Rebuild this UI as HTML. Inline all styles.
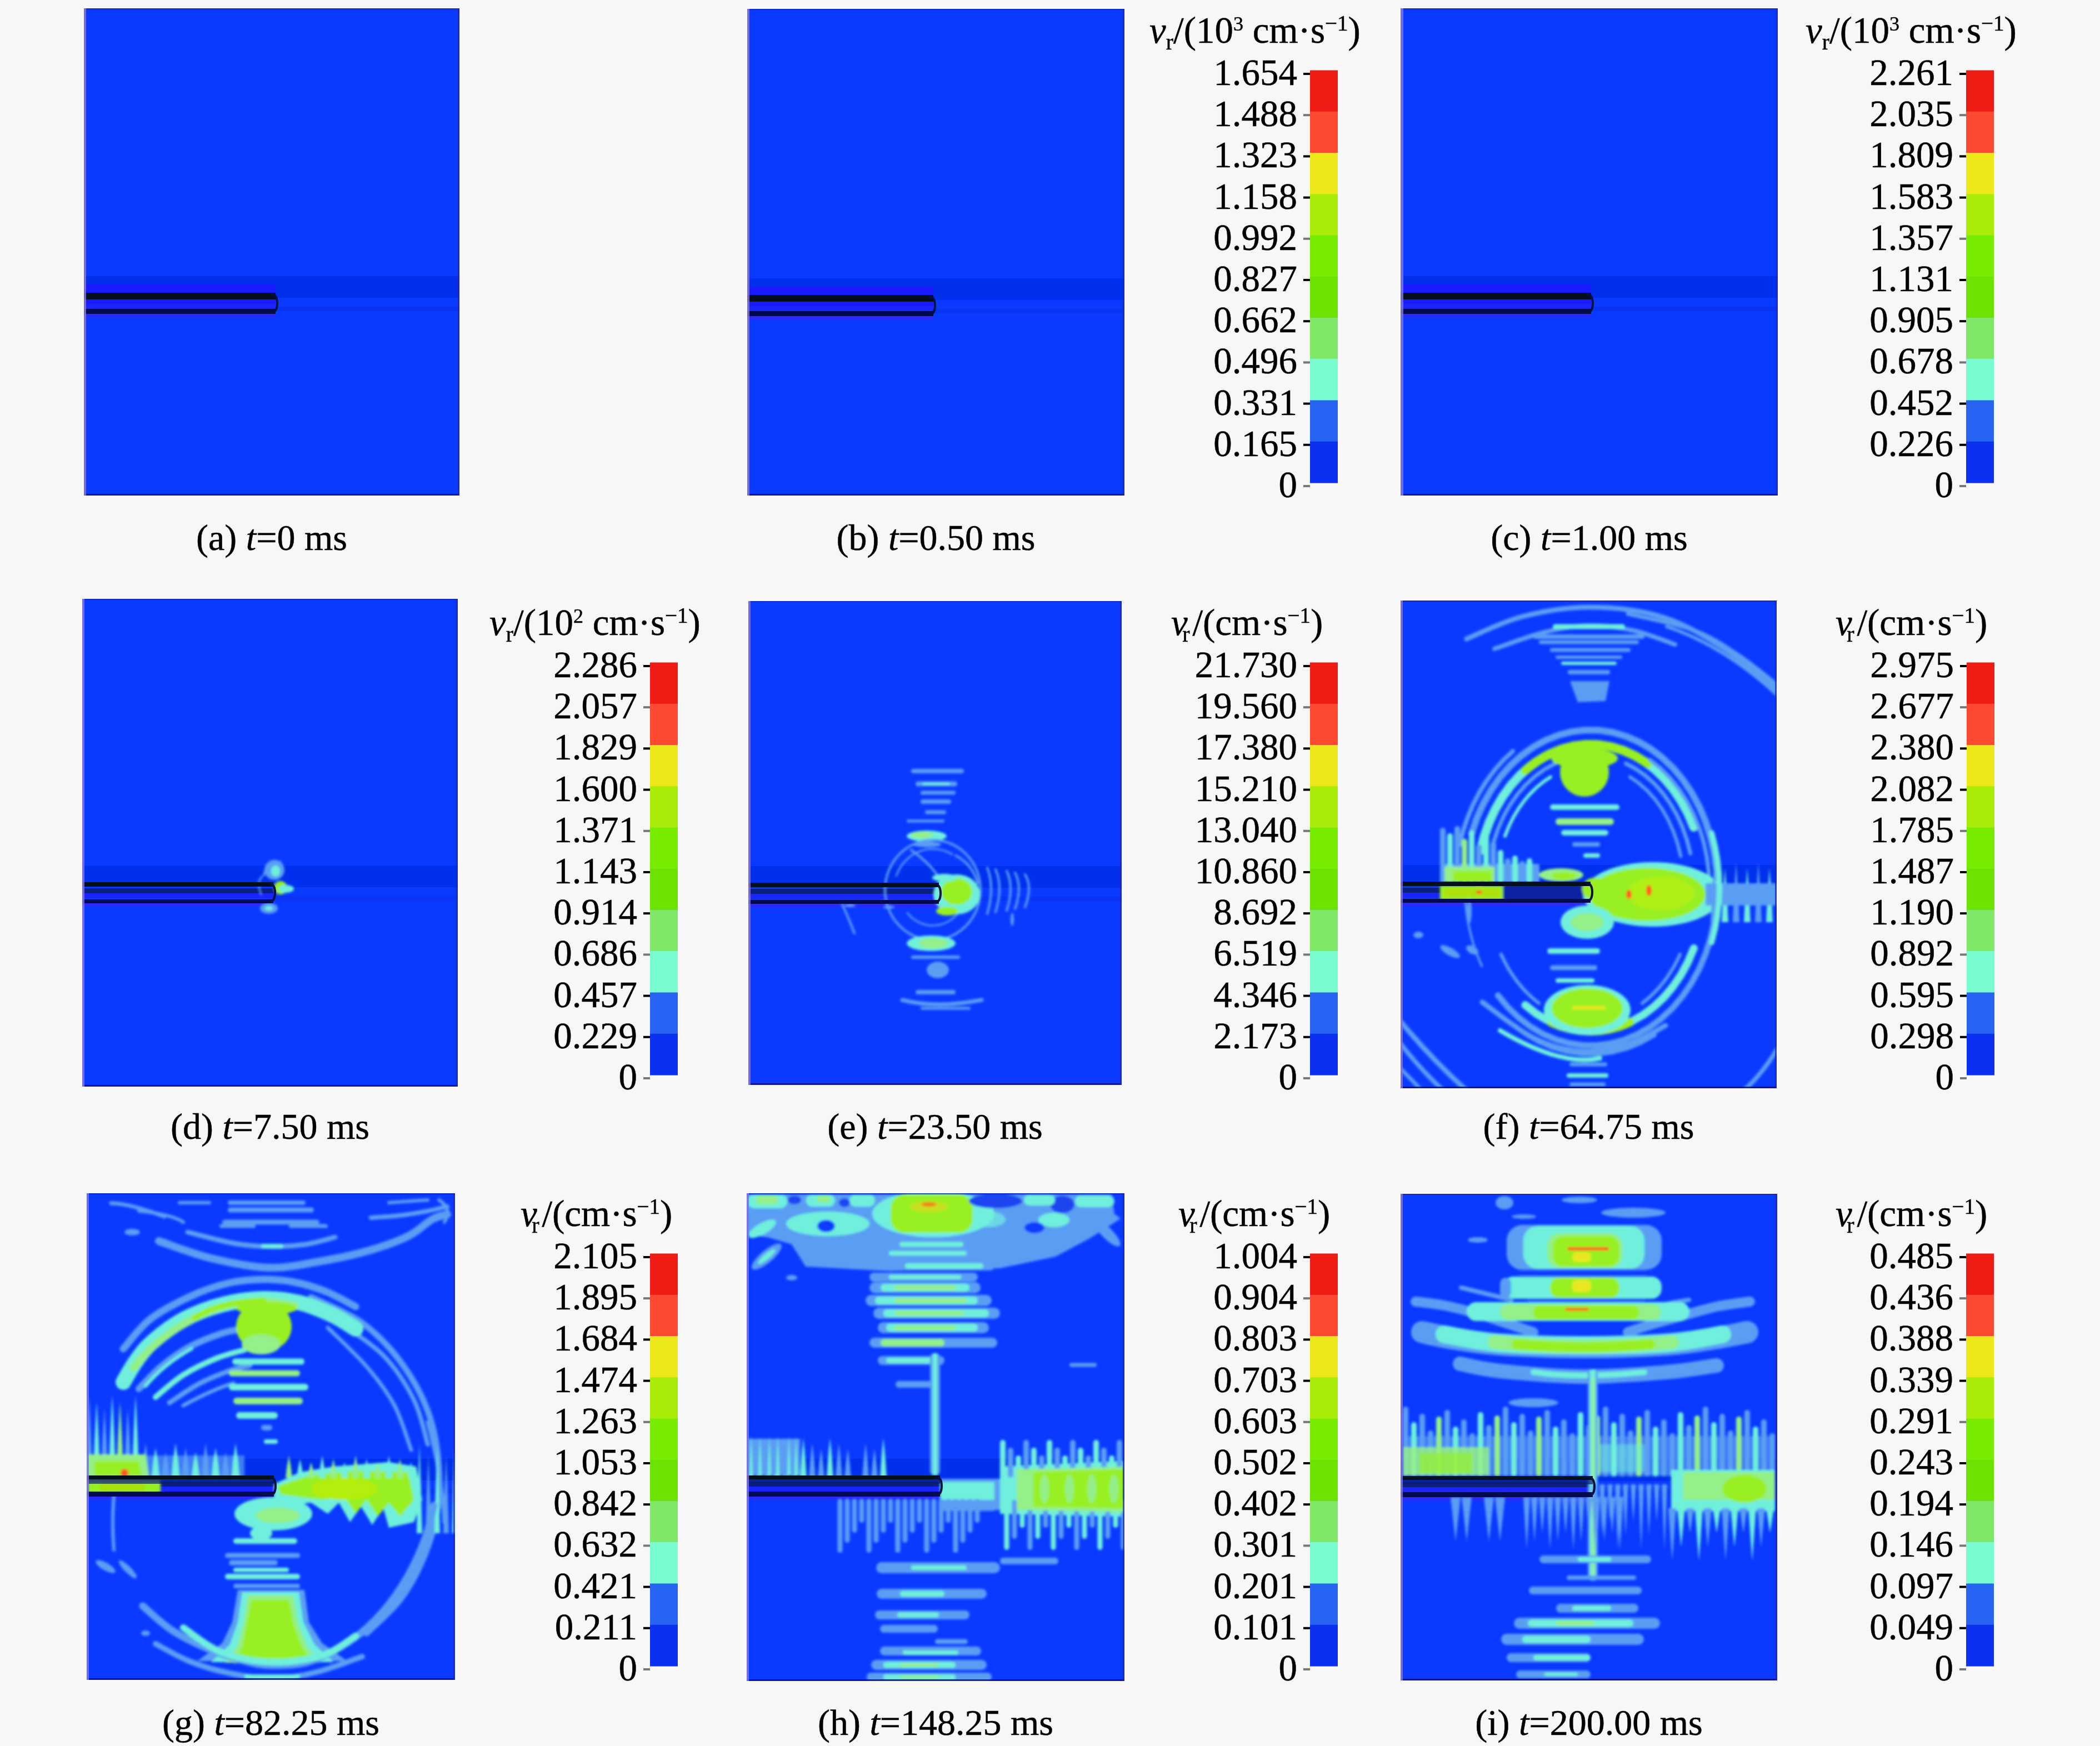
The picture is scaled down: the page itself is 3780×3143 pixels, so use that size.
<!DOCTYPE html>
<html><head><meta charset="utf-8"><title>Figure</title>
<style>
html,body{margin:0;padding:0;background:#f7f7f7;}
body{width:3780px;height:3143px;overflow:hidden;}
svg{display:block;}
text{font-family:"Liberation Serif", serif;fill:#000;stroke:#000;stroke-width:0.5px;}
</style></head><body>
<svg width="3780" height="3143" viewBox="0 0 3780 3143">
<defs>
<filter id="b2" x="-20%" y="-20%" width="140%" height="140%"><feGaussianBlur stdDeviation="2"/></filter>
<filter id="b4" x="-20%" y="-20%" width="140%" height="140%"><feGaussianBlur stdDeviation="4"/></filter>

<clipPath id="cpa"><rect x="151" y="15" width="676" height="877"/></clipPath>
<clipPath id="cpb"><rect x="1345" y="16" width="679" height="876"/></clipPath>
<clipPath id="cpc"><rect x="2521" y="15" width="679" height="877"/></clipPath>
<clipPath id="cpd"><rect x="148" y="1078" width="676" height="878"/></clipPath>
<clipPath id="cpe"><rect x="1347" y="1082" width="672" height="871"/></clipPath>
<clipPath id="cpf"><rect x="2521" y="1081" width="677" height="878"/></clipPath>
<clipPath id="cpg"><rect x="156" y="2148" width="663" height="876"/></clipPath>
<clipPath id="cph"><rect x="1344" y="2148" width="680" height="878"/></clipPath>
<clipPath id="cpi"><rect x="2521" y="2149" width="678" height="876"/></clipPath>
</defs>
<rect width="3780" height="3143" fill="#f7f7f7"/>
<g clip-path="url(#cpa)">
<rect x="151" y="15" width="676" height="877" fill="#0a3aff"/>
<rect x="151" y="497" width="676" height="39" fill="#0030ec"/><rect x="496" y="552" width="331" height="8" fill="#0a34f4"/><rect x="151" y="512" width="345" height="16" fill="#1a1aff"/><rect x="151" y="538" width="345" height="9" fill="#1a1aff"/><rect x="151" y="547" width="345" height="9" fill="#1a24ff"/><rect x="151" y="565" width="345" height="6" fill="#2a2aff"/>
<g filter="url(#b2)"></g>
<rect x="151" y="527" width="345" height="12" fill="#02101e"/><rect x="151" y="556" width="345" height="9" fill="#000a50"/><path d="M488,529 Q499,530 499,546 Q499,562 488,563" stroke="#001040" stroke-width="4" fill="none"/>
</g>
<rect x="151" y="15" width="676" height="2" fill="#1024b0" opacity="0.8"/>
<rect x="151" y="889" width="676" height="3" fill="#0c0c80" opacity="0.8"/>
<rect x="151" y="15" width="4" height="877" fill="#8474e4" opacity="0.85"/>
<rect x="824" y="15" width="3" height="877" fill="#2424a8" opacity="0.7"/>
<g clip-path="url(#cpb)">
<rect x="1345" y="16" width="679" height="876" fill="#0a3aff"/>
<rect x="1345" y="501" width="679" height="39" fill="#0030ec"/><rect x="1680" y="556" width="344" height="8" fill="#0a34f4"/><rect x="1345" y="516" width="335" height="16" fill="#1a1aff"/><rect x="1345" y="542" width="335" height="9" fill="#1a1aff"/><rect x="1345" y="551" width="335" height="9" fill="#1a24ff"/><rect x="1345" y="569" width="335" height="6" fill="#2a2aff"/>
<g filter="url(#b2)"></g>
<rect x="1345" y="531" width="335" height="12" fill="#02101e"/><rect x="1345" y="560" width="335" height="9" fill="#000a50"/><path d="M1672,533 Q1683,534 1683,550 Q1683,566 1672,567" stroke="#001040" stroke-width="4" fill="none"/>
</g>
<rect x="1345" y="16" width="679" height="2" fill="#1024b0" opacity="0.8"/>
<rect x="1345" y="889" width="679" height="3" fill="#0c0c80" opacity="0.8"/>
<rect x="1345" y="16" width="4" height="876" fill="#8474e4" opacity="0.85"/>
<rect x="2021" y="16" width="3" height="876" fill="#2424a8" opacity="0.7"/>
<g clip-path="url(#cpc)">
<rect x="2521" y="15" width="679" height="877" fill="#0a3aff"/>
<rect x="2521" y="497" width="679" height="39" fill="#0030ec"/><rect x="2864" y="552" width="336" height="8" fill="#0a34f4"/><rect x="2521" y="512" width="343" height="16" fill="#1a1aff"/><rect x="2521" y="538" width="343" height="9" fill="#1a1aff"/><rect x="2521" y="547" width="343" height="9" fill="#1a24ff"/><rect x="2521" y="565" width="343" height="6" fill="#2a2aff"/>
<g filter="url(#b2)"></g>
<rect x="2521" y="527" width="343" height="12" fill="#02101e"/><rect x="2521" y="556" width="343" height="9" fill="#000a50"/><path d="M2856,529 Q2867,530 2867,546 Q2867,562 2856,563" stroke="#001040" stroke-width="4" fill="none"/>
</g>
<rect x="2521" y="15" width="679" height="2" fill="#1024b0" opacity="0.8"/>
<rect x="2521" y="889" width="679" height="3" fill="#0c0c80" opacity="0.8"/>
<rect x="2521" y="15" width="5" height="877" fill="#8474e4" opacity="0.85"/>
<rect x="3197" y="15" width="3" height="877" fill="#2424a8" opacity="0.7"/>
<g clip-path="url(#cpd)">
<rect x="148" y="1078" width="676" height="878" fill="#0a3aff"/>
<rect x="148" y="1558" width="676" height="39" fill="#0030ec"/><rect x="492" y="1613" width="332" height="8" fill="#0a34f4"/><rect x="148" y="1599" width="344" height="9" fill="#0a2080"/><rect x="148" y="1608" width="344" height="9" fill="#1a24ff"/><rect x="148" y="1626" width="344" height="6" fill="#2a2aff"/>
<g filter="url(#b2)"><ellipse cx="494.0" cy="1566.0" rx="18.0" ry="18.0" fill="#5a9ef4"/><ellipse cx="496.0" cy="1568.0" rx="8.0" ry="10.0" fill="#70f0dc"/><path d="M475.0,1575.0 Q482.0,1548.5 505.0,1552.0" stroke="#5a9ef4" stroke-width="4" fill="none" stroke-linecap="round"/><ellipse cx="484.0" cy="1635.0" rx="16.0" ry="10.0" fill="#5a9ef4"/><ellipse cx="484.0" cy="1635.0" rx="7.0" ry="4.0" fill="#70f0dc"/><ellipse cx="505.0" cy="1598.0" rx="12.0" ry="12.0" fill="#98f020"/><ellipse cx="515.0" cy="1600.0" rx="14.0" ry="7.0" fill="#70f0dc"/><path d="M470.0,1610.0 Q461.0,1586.0 472.0,1578.0" stroke="#5a9ef4" stroke-width="3" fill="none" stroke-linecap="round"/></g>
<rect x="148" y="1588" width="344" height="8" fill="#02101e"/><rect x="148" y="1619" width="344" height="7" fill="#000a50"/><path d="M484,1590 Q495,1591 495,1607 Q495,1623 484,1624" stroke="#001040" stroke-width="4" fill="none"/>
</g>
<rect x="148" y="1078" width="676" height="2" fill="#1024b0" opacity="0.8"/>
<rect x="148" y="1953" width="676" height="3" fill="#0c0c80" opacity="0.8"/>
<rect x="148" y="1078" width="4" height="878" fill="#8474e4" opacity="0.85"/>
<rect x="821" y="1078" width="3" height="878" fill="#2424a8" opacity="0.7"/>
<g clip-path="url(#cpe)">
<rect x="1347" y="1082" width="672" height="871" fill="#0a3aff"/>
<rect x="1347" y="1559" width="672" height="39" fill="#0030ec"/><rect x="1690" y="1614" width="329" height="8" fill="#0a34f4"/><rect x="1347" y="1600" width="343" height="9" fill="#0a2080"/><rect x="1347" y="1609" width="343" height="9" fill="#1a24ff"/><rect x="1347" y="1627" width="343" height="6" fill="#2a2aff"/>
<g filter="url(#b2)"><rect x="1640.0" y="1384.0" width="95.0" height="8.0" rx="4.0" fill="#5a9ef4"/><rect x="1648.0" y="1406.5" width="75.0" height="9.0" rx="4.5" fill="#5a9ef4"/><rect x="1660.0" y="1409.0" width="50.0" height="4.0" rx="2.0" fill="#70f0dc"/><rect x="1657.0" y="1423.5" width="63.0" height="7.0" rx="3.5" fill="#5a9ef4"/><rect x="1657.0" y="1439.0" width="55.0" height="8.0" rx="4.0" fill="#5a9ef4"/><rect x="1665.0" y="1458.5" width="38.0" height="7.0" rx="3.5" fill="#5a9ef4"/><rect x="1632.0" y="1475.5" width="68.0" height="5.0" rx="2.5" fill="#5a9ef4"/><ellipse cx="1668.0" cy="1505.0" rx="36.0" ry="10.0" fill="#70f0dc"/><ellipse cx="1660.0" cy="1503.0" rx="20.0" ry="6.0" fill="#94f088"/><ellipse cx="1668.0" cy="1520.0" rx="26.0" ry="5.0" fill="#5a9ef4"/><path d="M1765.0,1602.0 L1764.5,1611.4 L1763.1,1620.7 L1760.8,1629.8 L1757.6,1638.6 L1753.5,1647.0 L1748.6,1654.9 L1742.9,1662.2 L1736.5,1668.9 L1729.5,1674.8 L1722.0,1679.9 L1714.0,1684.2 L1705.6,1687.6 L1696.9,1690.0 L1688.0,1691.5 L1679.0,1692.0 L1670.0,1691.5 L1661.1,1690.0 L1652.4,1687.6 L1644.0,1684.2 L1636.0,1679.9 L1628.5,1674.8 L1621.5,1668.9 L1615.1,1662.2 L1609.4,1654.9 L1604.5,1647.0 L1600.4,1638.6 L1597.2,1629.8 L1594.9,1620.7 L1593.5,1611.4 L1593.0,1602.0 L1593.5,1592.6 L1594.9,1583.3 L1597.2,1574.2 L1600.4,1565.4 L1604.5,1557.0 L1609.4,1549.1 L1615.1,1541.8 L1621.5,1535.1 L1628.5,1529.2 L1636.0,1524.1 L1644.0,1519.8 L1652.4,1516.4 L1661.1,1514.0 L1670.0,1512.5 L1679.0,1512.0 L1688.0,1512.5 L1696.9,1514.0 L1705.6,1516.4 L1714.0,1519.8 L1722.0,1524.1 L1729.5,1529.2 L1736.5,1535.1 L1742.9,1541.8 L1748.6,1549.1 L1753.5,1557.0 L1757.6,1565.4 L1760.8,1574.2 L1763.1,1583.3 L1764.5,1592.6 L1765.0,1602.0" stroke="#5a9ef4" stroke-width="4" fill="none" stroke-linecap="round" stroke-linejoin="round"/><path d="M1613.2,1576.7 L1616.2,1569.3 L1620.0,1562.2 L1624.4,1555.7 L1629.5,1549.7 L1635.2,1544.3 L1641.4,1539.6 L1648.0,1535.6 L1655.1,1532.5 L1662.4,1530.1 L1669.9,1528.6 L1677.5,1528.0 L1685.1,1528.3 L1692.7,1529.4 L1700.0,1531.4 L1707.2,1534.3 L1714.0,1537.9" stroke="#5a9ef4" stroke-width="3" fill="none" stroke-linecap="round" stroke-linejoin="round"/><path d="M1731.0,1634.0 L1727.5,1639.7 L1723.4,1645.0 L1718.9,1649.8 L1713.9,1654.1 L1708.5,1657.7 L1702.8,1660.8 L1696.8,1663.1 L1690.6,1664.8 L1684.2,1665.8 L1677.8,1666.0 L1671.5,1665.5 L1665.2,1664.3 L1659.0,1662.3 L1653.1,1659.7 L1647.5,1656.5 L1642.2,1652.6 L1637.4,1648.1 L1633.0,1643.1" stroke="#5a9ef4" stroke-width="3" fill="none" stroke-linecap="round" stroke-linejoin="round"/><path d="M1640.0,1530.0 Q1675.0,1555.0 1690.0,1580.0" stroke="#5a9ef4" stroke-width="4" fill="none" stroke-linecap="round"/><path d="M1720.0,1540.0 Q1750.0,1555.0 1760.0,1590.0" stroke="#5a9ef4" stroke-width="4" fill="none" stroke-linecap="round"/><ellipse cx="1722.0" cy="1610.0" rx="42.0" ry="36.0" fill="#70f0dc"/><ellipse cx="1722.0" cy="1605.0" rx="28.0" ry="24.0" fill="#98f020"/><ellipse cx="1705.0" cy="1640.0" rx="20.0" ry="8.0" fill="#98f020"/><ellipse cx="1700.0" cy="1580.0" rx="22.0" ry="7.0" fill="#70f0dc"/><path d="M1777.0,1562.0 Q1791.0,1596.5 1777.0,1645.0" stroke="#5a9ef4" stroke-width="4" fill="none" stroke-linecap="round"/><path d="M1792.0,1565.0 Q1806.0,1596.5 1792.0,1642.0" stroke="#5a9ef4" stroke-width="4" fill="none" stroke-linecap="round"/><path d="M1812.0,1568.0 Q1826.0,1596.5 1812.0,1639.0" stroke="#5a9ef4" stroke-width="4" fill="none" stroke-linecap="round"/><path d="M1827.0,1571.0 Q1841.0,1596.5 1827.0,1636.0" stroke="#5a9ef4" stroke-width="4" fill="none" stroke-linecap="round"/><path d="M1845.0,1574.0 Q1859.0,1596.5 1845.0,1633.0" stroke="#5a9ef4" stroke-width="4" fill="none" stroke-linecap="round"/><ellipse cx="1822.0" cy="1655.0" rx="3.0" ry="12.0" fill="#5a9ef4"/><ellipse cx="1676.0" cy="1698.0" rx="44.0" ry="14.0" fill="#70f0dc"/><ellipse cx="1680.0" cy="1698.0" rx="26.0" ry="9.0" fill="#94f088"/><rect x="1640.0" y="1720.0" width="88.0" height="6.0" rx="3.0" fill="#5a9ef4"/><ellipse cx="1688.0" cy="1746.0" rx="20.0" ry="15.0" fill="#5a9ef4"/><rect x="1648.0" y="1782.0" width="72.0" height="8.0" rx="4.0" fill="#5a9ef4"/><path d="M1624.0,1800.0 Q1684.5,1816.0 1767.0,1800.0" stroke="#5a9ef4" stroke-width="7" fill="none" stroke-linecap="round"/><rect x="1657.0" y="1812.5" width="90.0" height="5.0" rx="2.5" fill="#5a9ef4"/><path d="M1516.0,1628.0 Q1529.0,1656.0 1538.0,1680.0" stroke="#5a9ef4" stroke-width="4" fill="none" stroke-linecap="round"/><ellipse cx="1530.0" cy="1630.0" rx="10.0" ry="3.0" fill="#5a9ef4"/><ellipse cx="1600.0" cy="1633.0" rx="10.0" ry="3.0" fill="#5a9ef4"/></g>
<rect x="1347" y="1589" width="343" height="8" fill="#02101e"/><rect x="1347" y="1620" width="343" height="7" fill="#000a50"/><path d="M1682,1591 Q1693,1592 1693,1608 Q1693,1624 1682,1625" stroke="#001040" stroke-width="4" fill="none"/>
</g>
<rect x="1347" y="1082" width="672" height="2" fill="#1024b0" opacity="0.8"/>
<rect x="1347" y="1950" width="672" height="3" fill="#0c0c80" opacity="0.8"/>
<rect x="1347" y="1082" width="4" height="871" fill="#8474e4" opacity="0.85"/>
<rect x="2016" y="1082" width="3" height="871" fill="#2424a8" opacity="0.7"/>
<g clip-path="url(#cpf)">
<rect x="2521" y="1081" width="677" height="878" fill="#0a3aff"/>
<rect x="2521" y="1557" width="677" height="39" fill="#0030ec"/><rect x="2863" y="1612" width="335" height="8" fill="#0a34f4"/><rect x="2521" y="1598" width="342" height="9" fill="#0a2080"/><rect x="2521" y="1607" width="342" height="9" fill="#1a24ff"/><rect x="2521" y="1625" width="342" height="6" fill="#2a2aff"/>
<g filter="url(#b2)"><path d="M2640.0,1150.0 C2656.7,1143.3 2703.3,1119.5 2740.0,1110.0 C2776.7,1100.5 2818.3,1093.0 2860.0,1093.0 C2901.7,1093.0 2950.0,1098.0 2990.0,1110.0 C3030.0,1122.0 3065.3,1143.3 3100.0,1165.0 C3134.7,1186.7 3181.7,1227.5 3198.0,1240.0" stroke="#5a9ef4" stroke-width="9" fill="none" stroke-linecap="round"/><path d="M2690.0,1168.0 C2705.0,1163.0 2751.7,1145.0 2780.0,1138.0 C2808.3,1131.0 2833.3,1126.5 2860.0,1126.0 C2886.7,1125.5 2914.2,1129.3 2940.0,1135.0 C2965.8,1140.7 3002.5,1155.8 3015.0,1160.0" stroke="#5a9ef4" stroke-width="8" fill="none" stroke-linecap="round"/><path d="M2930.0,1105.0 C2950.0,1110.0 3016.7,1122.5 3050.0,1135.0 C3083.3,1147.5 3105.3,1163.8 3130.0,1180.0 C3154.7,1196.2 3186.7,1223.3 3198.0,1232.0" stroke="#5a9ef4" stroke-width="7" fill="none" stroke-linecap="round"/><path d="M3000.0,1128.0 Q3101.0,1161.0 3198.0,1250.0" stroke="#5a9ef4" stroke-width="6" fill="none" stroke-linecap="round"/><rect x="2795.0" y="1123.5" width="130.0" height="9.0" rx="4.5" fill="#70f0dc"/><rect x="2760.0" y="1142.0" width="200.0" height="8.0" rx="4.0" fill="#5a9ef4"/><rect x="2770.0" y="1152.5" width="180.0" height="7.0" rx="3.5" fill="#5a9ef4"/><rect x="2790.0" y="1166.5" width="145.0" height="7.0" rx="3.5" fill="#5a9ef4"/><rect x="2800.0" y="1180.0" width="120.0" height="6.0" rx="3.0" fill="#5a9ef4"/><rect x="2810.0" y="1191.0" width="100.0" height="6.0" rx="3.0" fill="#70f0dc"/><rect x="2822.0" y="1206.0" width="76.0" height="8.0" rx="4.0" fill="#5a9ef4"/><polygon points="2826.0,1226.0 2897.0,1226.0 2890.0,1262.0 2840.0,1264.0" fill="#5a9ef4"/><path d="M2648.8,1500.9 L2658.3,1472.8 L2670.3,1446.2 L2684.5,1421.4 L2700.7,1398.5 L2718.8,1378.0 L2738.6,1360.0 L2759.8,1344.8 L2782.2,1332.5 L2805.5,1323.2 L2829.5,1317.1 L2853.8,1314.2 L2878.3,1314.6 L2902.6,1318.3 L2926.4,1325.2 L2949.5,1335.3 L2971.7,1348.3 L2992.5,1364.3 L3011.9,1382.9 L3029.5,1404.0 L3045.3,1427.4 L3058.9,1452.7 L3070.3,1479.7 L3079.3,1508.1 L3085.8,1537.5 L3089.7,1567.6 L3091.0,1598.0" stroke="#5a9ef4" stroke-width="12" fill="none" stroke-linecap="round" stroke-linejoin="round"/><path d="M3091.0,1598.0 L3089.7,1628.8 L3085.6,1659.2 L3079.0,1689.0 L3069.8,1717.6 L3058.2,1744.8 L3044.2,1770.4 L3028.1,1793.8 L3010.1,1815.0 L2990.3,1833.6 L2969.1,1849.4 L2946.6,1862.2 L2923.1,1872.0 L2898.8,1878.5 L2874.2,1881.7 L2849.4,1881.5 L2824.8,1878.0 L2800.7,1871.2 L2777.3,1861.2 L2754.8,1848.0 L2733.7,1831.9 L2714.1,1813.1 L2696.3,1791.7" stroke="#5a9ef4" stroke-width="11" fill="none" stroke-linecap="round" stroke-linejoin="round"/><path d="M2667.3,1739.0 L2661.4,1725.5 L2656.1,1711.6 L2651.5,1697.3 L2647.5,1682.8 L2644.1,1668.0 L2641.3,1653.0 L2639.3,1637.9 L2637.9,1622.6" stroke="#5a9ef4" stroke-width="4" fill="none" stroke-linecap="round" stroke-linejoin="round"/><path d="M2627.3,1520.4 L2633.7,1495.4 L2641.9,1471.2 L2651.7,1448.0 L2663.1,1425.9 L2676.1,1405.2 L2690.5,1385.9 L2706.2,1368.2 L2723.0,1352.3" stroke="#5a9ef4" stroke-width="8" fill="none" stroke-linecap="round" stroke-linejoin="round"/><path d="M2665.0,1531.2 L2671.7,1505.2 L2680.6,1480.2 L2691.6,1456.5 L2704.5,1434.4 L2719.1,1414.2 L2735.4,1396.0 L2753.2,1380.1 L2772.2,1366.7 L2792.2,1355.9 L2813.0,1347.8 L2834.3,1342.5 L2856.0,1340.2 L2877.8,1340.7 L2899.4,1344.1 L2920.6,1350.4 L2941.1,1359.5 L2960.7,1371.2 L2979.3,1385.5 L2996.6,1402.3 L3012.3,1421.2 L3026.3,1442.1 L3038.6,1464.8 L3048.8,1489.0" stroke="#70f0dc" stroke-width="16" fill="none" stroke-linecap="round" stroke-linejoin="round"/><path d="M2745.4,1386.7 L2765.2,1371.3 L2786.2,1358.8 L2808.2,1349.4 L2830.9,1343.2 L2854.1,1340.2 L2877.3,1340.6 L2900.4,1344.3 L2922.9,1351.3 L2944.7,1361.4 L2965.5,1374.6" stroke="#98f020" stroke-width="16" fill="none" stroke-linecap="round" stroke-linejoin="round"/><path d="M2688.2,1516.6 L2696.2,1492.7 L2706.1,1470.1 L2717.9,1449.0 L2731.5,1429.7 L2746.6,1412.4 L2763.1,1397.3 L2780.7,1384.5 L2799.4,1374.4" stroke="#5a9ef4" stroke-width="7" fill="none" stroke-linecap="round" stroke-linejoin="round"/><path d="M2708.9,1505.0 L2715.8,1488.0 L2723.7,1471.8 L2732.8,1456.6 L2742.8,1442.4 L2753.7,1429.5 L2765.5,1417.8 L2778.0,1407.5 L2791.2,1398.6" stroke="#70f0dc" stroke-width="6" fill="none" stroke-linecap="round" stroke-linejoin="round"/><path d="M2926.6,1374.4 L2944.9,1384.3 L2962.2,1396.7 L2978.4,1411.3 L2993.2,1428.1 L3006.6,1446.8 L3018.4,1467.2 L3028.4,1489.1 L3036.5,1512.3 L3042.7,1536.4" stroke="#5a9ef4" stroke-width="7" fill="none" stroke-linecap="round" stroke-linejoin="round"/><path d="M2934.0,1398.6 L2950.2,1409.9 L2965.3,1423.5 L2979.2,1439.1 L2991.7,1456.6 L3002.7,1475.8 L3012.0,1496.4 L3019.6,1518.3 L3025.3,1541.1" stroke="#5a9ef4" stroke-width="6" fill="none" stroke-linecap="round" stroke-linejoin="round"/><path d="M2970.0,1367.6 L2988.8,1382.8 L3006.2,1400.3 L3022.0,1420.0 L3036.1,1441.6 L3048.3,1465.0 L3058.5,1489.8 L3066.5,1515.8 L3072.3,1542.7 L3075.8,1570.2 L3077.0,1598.0" stroke="#5a9ef4" stroke-width="7" fill="none" stroke-linecap="round" stroke-linejoin="round"/><path d="M3048.8,1707.0 L3038.3,1731.8 L3025.6,1755.1 L3011.1,1776.4 L2994.8,1795.6 L2976.9,1812.5 L2957.7,1826.8 L2937.3,1838.5 L2916.1,1847.2 L2894.2,1853.0 L2871.9,1855.8 L2849.6,1855.4 L2827.4,1852.1 L2805.6,1845.7 L2784.5,1836.4 L2764.4,1824.2 L2745.4,1809.3" stroke="#70f0dc" stroke-width="14" fill="none" stroke-linecap="round" stroke-linejoin="round"/><path d="M2933.1,1840.4 L2916.1,1847.2 L2898.6,1852.1 L2880.9,1855.0 L2863.0,1856.0 L2845.1,1855.0 L2827.4,1852.1 L2809.9,1847.2 L2792.9,1840.4" stroke="#98f020" stroke-width="16" fill="none" stroke-linecap="round" stroke-linejoin="round"/><path d="M3024.1,1718.0 L3017.7,1731.3 L3010.6,1744.1 L3002.8,1756.2 L2994.5,1767.7 L2985.6,1778.4 L2976.2,1788.4 L2966.3,1797.6 L2956.0,1805.8" stroke="#5a9ef4" stroke-width="6" fill="none" stroke-linecap="round" stroke-linejoin="round"/><path d="M2770.0,1805.8 L2759.7,1797.6 L2749.8,1788.4 L2740.4,1778.4 L2731.5,1767.7 L2723.2,1756.2 L2715.4,1744.1 L2708.3,1731.3 L2701.9,1718.0" stroke="#5a9ef4" stroke-width="6" fill="none" stroke-linecap="round" stroke-linejoin="round"/><path d="M2978.0,1862.9 L2953.6,1876.7 L2928.1,1887.2 L2901.7,1894.2 L2875.0,1897.6 L2848.0,1897.4 L2821.3,1893.6 L2795.1,1886.2 L2769.6,1875.4 L2745.3,1861.1 L2722.5,1843.7" stroke="#5a9ef4" stroke-width="8" fill="none" stroke-linecap="round" stroke-linejoin="round"/><ellipse cx="2852.0" cy="1390.0" rx="44.0" ry="44.0" fill="#98f020"/><ellipse cx="2852.0" cy="1365.0" rx="60.0" ry="18.0" fill="#98f020"/><rect x="2790.0" y="1448.0" width="125.0" height="10.0" rx="5.0" fill="#70f0dc"/><rect x="2800.0" y="1473.0" width="105.0" height="12.0" rx="6.0" fill="#94f088"/><rect x="2810.0" y="1494.0" width="85.0" height="10.0" rx="5.0" fill="#70f0dc"/><rect x="2830.0" y="1516.0" width="50.0" height="8.0" rx="4.0" fill="#5a9ef4"/><rect x="2850.0" y="1536.0" width="30.0" height="8.0" rx="4.0" fill="#70f0dc"/><polygon points="2592.0,1555.0 2770.0,1555.0 2770.0,1588.0 2592.0,1588.0" fill="#5a9ef4"/><rect x="2592.0" y="1490.0" width="10.0" height="100.0" rx="5.0" fill="#5a9ef4"/><rect x="2605.0" y="1500.0" width="10.0" height="90.0" rx="5.0" fill="#70f0dc"/><rect x="2618.0" y="1487.0" width="10.0" height="103.0" rx="5.0" fill="#5a9ef4"/><rect x="2631.0" y="1510.0" width="10.0" height="80.0" rx="5.0" fill="#94f088"/><rect x="2644.0" y="1495.0" width="10.0" height="95.0" rx="5.0" fill="#70f0dc"/><rect x="2657.0" y="1520.0" width="10.0" height="70.0" rx="5.0" fill="#5a9ef4"/><rect x="2670.0" y="1500.0" width="10.0" height="90.0" rx="5.0" fill="#70f0dc"/><rect x="2683.0" y="1515.0" width="10.0" height="75.0" rx="5.0" fill="#5a9ef4"/><rect x="2696.0" y="1530.0" width="10.0" height="60.0" rx="5.0" fill="#70f0dc"/><rect x="2709.0" y="1545.0" width="10.0" height="45.0" rx="5.0" fill="#5a9ef4"/><rect x="2722.0" y="1540.0" width="10.0" height="50.0" rx="5.0" fill="#70f0dc"/><rect x="2735.0" y="1550.0" width="10.0" height="40.0" rx="5.0" fill="#5a9ef4"/><rect x="2748.0" y="1545.0" width="10.0" height="45.0" rx="5.0" fill="#70f0dc"/><rect x="2761.0" y="1555.0" width="10.0" height="35.0" rx="5.0" fill="#5a9ef4"/><polygon points="2600.0,1560.0 2690.0,1560.0 2690.0,1588.0 2600.0,1588.0" fill="#94f088"/><polygon points="2615.0,1568.0 2685.0,1568.0 2685.0,1588.0 2615.0,1588.0" fill="#98f020"/><ellipse cx="2810.0" cy="1575.0" rx="40.0" ry="12.0" fill="#94f088"/><ellipse cx="2815.0" cy="1577.0" rx="22.0" ry="7.0" fill="#98f020"/><polygon points="2592.0,1594.0 2705.0,1594.0 2705.0,1620.0 2592.0,1620.0" fill="#98f020"/><polygon points="2600.0,1600.0 2700.0,1600.0 2700.0,1614.0 2600.0,1614.0" fill="#b0e010"/><polygon points="2705.0,1594.0 2860.0,1594.0 2860.0,1620.0 2705.0,1620.0" fill="#0a20a0"/><ellipse cx="2662.0" cy="1592.0" rx="5.0" ry="3.0" fill="#f02010"/><ellipse cx="2662.0" cy="1606.0" rx="6.0" ry="3.0" fill="#ff5a20"/><ellipse cx="2975.0" cy="1610.0" rx="125.0" ry="58.0" fill="#70f0dc"/><ellipse cx="2965.0" cy="1610.0" rx="105.0" ry="48.0" fill="#98f020"/><ellipse cx="2990.0" cy="1608.0" rx="60.0" ry="30.0" fill="#b0f018"/><ellipse cx="2932.0" cy="1610.0" rx="5.0" ry="8.0" fill="#ff5a20"/><ellipse cx="2968.0" cy="1603.0" rx="5.0" ry="10.0" fill="#ff5a20"/><path d="M3079.0,1660.0 Q3081.0,1606.0 3085.0,1552.0 Q3089.0,1606.0 3091.0,1660.0 Z" fill="#5a9ef4"/><path d="M3099.0,1660.0 Q3101.0,1611.0 3105.0,1562.0 Q3109.0,1611.0 3111.0,1660.0 Z" fill="#70f0dc"/><path d="M3119.0,1660.0 Q3121.0,1606.0 3125.0,1552.0 Q3129.0,1606.0 3131.0,1660.0 Z" fill="#5a9ef4"/><path d="M3139.0,1660.0 Q3141.0,1611.0 3145.0,1562.0 Q3149.0,1611.0 3151.0,1660.0 Z" fill="#70f0dc"/><path d="M3159.0,1660.0 Q3161.0,1606.0 3165.0,1552.0 Q3169.0,1606.0 3171.0,1660.0 Z" fill="#5a9ef4"/><path d="M3179.0,1660.0 Q3181.0,1611.0 3185.0,1562.0 Q3189.0,1611.0 3191.0,1660.0 Z" fill="#70f0dc"/><polygon points="3070.0,1590.0 3198.0,1590.0 3198.0,1630.0 3070.0,1630.0" fill="#5a9ef4"/><ellipse cx="2870.0" cy="1600.0" rx="22.0" ry="20.0" fill="#98f020"/><ellipse cx="2857.0" cy="1660.0" rx="48.0" ry="30.0" fill="#70f0dc"/><ellipse cx="2857.0" cy="1660.0" rx="30.0" ry="16.0" fill="#94f088"/><rect x="2785.0" y="1707.0" width="95.0" height="10.0" rx="5.0" fill="#70f0dc"/><rect x="2790.0" y="1737.5" width="85.0" height="9.0" rx="4.5" fill="#5a9ef4"/><rect x="2800.0" y="1761.0" width="70.0" height="8.0" rx="4.0" fill="#70f0dc"/><ellipse cx="2857.0" cy="1818.0" rx="78.0" ry="45.0" fill="#70f0dc"/><ellipse cx="2857.0" cy="1815.0" rx="64.0" ry="36.0" fill="#98f020"/><rect x="2830.0" y="1811.0" width="60.0" height="6.0" rx="3.0" fill="#e8e820"/><path d="M2668.0,1804.0 C2683.3,1814.7 2730.7,1853.3 2760.0,1868.0 C2789.3,1882.7 2815.7,1890.0 2844.0,1892.0 C2872.3,1894.0 2904.3,1887.7 2930.0,1880.0 C2955.7,1872.3 2986.7,1851.7 2998.0,1846.0" stroke="#5a9ef4" stroke-width="9" fill="none" stroke-linecap="round"/><path d="M2700.0,1855.0 Q2810.0,1920.0 2880.0,1905.0" stroke="#70f0dc" stroke-width="8" fill="none" stroke-linecap="round"/><rect x="2825.0" y="1912.5" width="68.0" height="7.0" rx="3.5" fill="#5a9ef4"/><rect x="2820.0" y="1932.0" width="75.0" height="8.0" rx="4.0" fill="#70f0dc"/><rect x="2825.0" y="1948.5" width="65.0" height="7.0" rx="3.5" fill="#5a9ef4"/><path d="M2522.0,1840.0 Q2578.0,1907.5 2642.0,1965.0" stroke="#5a9ef4" stroke-width="9" fill="none" stroke-linecap="round"/><path d="M2522.0,1880.0 Q2559.0,1927.5 2600.0,1965.0" stroke="#5a9ef4" stroke-width="8" fill="none" stroke-linecap="round"/><path d="M2522.0,1925.0 Q2549.0,1951.0 2560.0,1965.0" stroke="#5a9ef4" stroke-width="7" fill="none" stroke-linecap="round"/><path d="M3198.0,1890.0 Q3171.0,1934.0 3140.0,1962.0" stroke="#5a9ef4" stroke-width="8" fill="none" stroke-linecap="round"/><ellipse cx="2553.0" cy="1683.0" rx="9.0" ry="6.0" fill="#5a9ef4"/><ellipse cx="2610.0" cy="1713.0" rx="20.0" ry="7.0" fill="#5a9ef4" transform="rotate(30 2610 1713)"/><ellipse cx="2650.0" cy="1710.0" rx="12.0" ry="7.0" fill="#5a9ef4" transform="rotate(30 2650 1710)"/><ellipse cx="2645.0" cy="1640.0" rx="4.0" ry="22.0" fill="#5a9ef4"/><path d="M3081.0,1499.5 L3087.1,1523.5 L3091.5,1548.0 L3094.1,1572.9 L3095.0,1598.0 L3094.1,1623.1 L3091.5,1648.0 L3087.1,1672.5 L3081.0,1696.5" stroke="#70f0dc" stroke-width="10" fill="none" stroke-linecap="round" stroke-linejoin="round"/></g>
<rect x="2521" y="1587" width="342" height="8" fill="#02101e"/><rect x="2521" y="1618" width="342" height="7" fill="#000a50"/><path d="M2855,1589 Q2866,1590 2866,1606 Q2866,1622 2855,1623" stroke="#001040" stroke-width="4" fill="none"/>
</g>
<rect x="2521" y="1081" width="677" height="2" fill="#1024b0" opacity="0.8"/>
<rect x="2521" y="1956" width="677" height="3" fill="#0c0c80" opacity="0.8"/>
<rect x="2521" y="1081" width="4" height="878" fill="#8474e4" opacity="0.85"/>
<rect x="3195" y="1081" width="3" height="878" fill="#2424a8" opacity="0.7"/>
<g clip-path="url(#cpg)">
<rect x="156" y="2148" width="663" height="876" fill="#0a3aff"/>
<rect x="156" y="2626" width="663" height="39" fill="#0030ec"/><rect x="493" y="2681" width="326" height="8" fill="#0a34f4"/><rect x="156" y="2667" width="337" height="9" fill="#0a2080"/><rect x="156" y="2676" width="337" height="9" fill="#1a24ff"/><rect x="156" y="2694" width="337" height="6" fill="#2a2aff"/>
<g filter="url(#b2)"><path d="M286.0,2234.0 C301.7,2239.2 346.5,2257.0 380.0,2265.0 C413.5,2273.0 452.0,2281.5 487.0,2282.0 C522.0,2282.5 559.8,2273.3 590.0,2268.0 C620.2,2262.7 643.8,2257.2 668.0,2250.0 C692.2,2242.8 716.7,2234.2 735.0,2225.0 C753.3,2215.8 766.3,2201.5 778.0,2195.0 C789.7,2188.5 800.5,2187.5 805.0,2186.0" stroke="#5a9ef4" stroke-width="14" fill="none" stroke-linecap="round"/><path d="M338.0,2218.0 C351.7,2221.3 395.2,2233.7 420.0,2238.0 C444.8,2242.3 465.3,2243.7 487.0,2244.0 C508.7,2244.3 530.7,2242.8 550.0,2240.0 C569.3,2237.2 594.2,2229.2 603.0,2227.0" stroke="#5a9ef4" stroke-width="9" fill="none" stroke-linecap="round"/><rect x="470.0" y="2239.0" width="40.0" height="8.0" rx="4.0" fill="#70f0dc"/><rect x="400.0" y="2195.5" width="175.0" height="9.0" rx="4.5" fill="#5a9ef4"/><rect x="410.0" y="2173.5" width="155.0" height="9.0" rx="4.5" fill="#5a9ef4"/><rect x="410.0" y="2161.0" width="140.0" height="8.0" rx="4.0" fill="#5a9ef4"/><rect x="395.0" y="2203.5" width="65.0" height="7.0" rx="3.5" fill="#5a9ef4"/><rect x="520.0" y="2203.5" width="70.0" height="7.0" rx="3.5" fill="#5a9ef4"/><path d="M200.0,2166.0 Q232.0,2166.0 296.0,2190.0" stroke="#5a9ef4" stroke-width="7" fill="none" stroke-linecap="round"/><path d="M250.0,2180.0 Q310.0,2186.0 330.0,2200.0" stroke="#5a9ef4" stroke-width="6" fill="none" stroke-linecap="round"/><ellipse cx="238.0" cy="2218.0" rx="14.0" ry="6.0" fill="#5a9ef4"/><rect x="320.0" y="2162.0" width="60.0" height="6.0" rx="3.0" fill="#5a9ef4"/><path d="M668.0,2192.0 C676.7,2191.3 703.0,2190.0 720.0,2188.0 C737.0,2186.0 755.8,2182.7 770.0,2180.0 C784.2,2177.3 799.2,2173.3 805.0,2172.0" stroke="#5a9ef4" stroke-width="8" fill="none" stroke-linecap="round"/><path d="M700.0,2165.0 Q745.0,2161.5 770.0,2160.0" stroke="#5a9ef4" stroke-width="6" fill="none" stroke-linecap="round"/><path d="M790.0,2160.0 Q815.0,2176.0 800.0,2200.0" stroke="#5a9ef4" stroke-width="6" fill="none" stroke-linecap="round"/><path d="M222.0,2428.0 C230.0,2419.2 249.7,2390.8 270.0,2375.0 C290.3,2359.2 320.7,2343.8 344.0,2333.0 C367.3,2322.2 388.3,2315.0 410.0,2310.0 C431.7,2305.0 454.0,2303.3 474.0,2303.0 C494.0,2302.7 511.2,2304.3 530.0,2308.0 C548.8,2311.7 568.7,2317.7 587.0,2325.0 C605.3,2332.3 631.2,2347.5 640.0,2352.0" stroke="#5a9ef4" stroke-width="13" fill="none" stroke-linecap="round"/><path d="M560.0,2335.0 C575.0,2342.5 623.3,2360.8 650.0,2380.0 C676.7,2399.2 700.0,2423.3 720.0,2450.0 C740.0,2476.7 758.3,2508.3 770.0,2540.0 C781.7,2571.7 787.5,2608.3 790.0,2640.0 C792.5,2671.7 790.0,2701.7 785.0,2730.0 C780.0,2758.3 770.8,2785.0 760.0,2810.0 C749.2,2835.0 736.7,2858.3 720.0,2880.0 C703.3,2901.7 670.0,2930.0 660.0,2940.0" stroke="#5a9ef4" stroke-width="11" fill="none" stroke-linecap="round"/><path d="M610.0,2380.0 C623.3,2390.0 667.5,2416.7 690.0,2440.0 C712.5,2463.3 731.7,2493.3 745.0,2520.0 C758.3,2546.7 765.8,2586.7 770.0,2600.0" stroke="#5a9ef4" stroke-width="8" fill="none" stroke-linecap="round"/><path d="M590.0,2390.0 C601.7,2401.7 640.0,2436.7 660.0,2460.0 C680.0,2483.3 696.7,2505.0 710.0,2530.0 C723.3,2555.0 735.0,2596.7 740.0,2610.0" stroke="#5a9ef4" stroke-width="7" fill="none" stroke-linecap="round"/><path d="M770.0,2560.0 Q795.0,2650.0 800.0,2740.0" stroke="#5a9ef4" stroke-width="7" fill="none" stroke-linecap="round"/><path d="M222.0,2488.0 C225.8,2481.7 236.2,2462.2 245.0,2450.0 C253.8,2437.8 260.3,2427.7 275.0,2415.0 C289.7,2402.3 311.8,2385.2 333.0,2374.0 C354.2,2362.8 378.5,2354.0 402.0,2348.0 C425.5,2342.0 451.2,2338.5 474.0,2338.0 C496.8,2337.5 518.0,2340.0 539.0,2345.0 C560.0,2350.0 583.2,2360.2 600.0,2368.0 C616.8,2375.8 633.3,2388.0 640.0,2392.0" stroke="#70f0dc" stroke-width="28" fill="none" stroke-linecap="round"/><path d="M240.0,2462.0 C246.7,2455.0 264.5,2433.3 280.0,2420.0 C295.5,2406.7 312.7,2393.3 333.0,2382.0 C353.3,2370.7 378.5,2358.5 402.0,2352.0 C425.5,2345.5 452.7,2343.3 474.0,2343.0 C495.3,2342.7 520.7,2348.8 530.0,2350.0" stroke="#94f088" stroke-width="14" fill="none" stroke-linecap="round"/><path d="M350.0,2372.0 Q392.0,2344.0 474.0,2340.0" stroke="#98f020" stroke-width="10" fill="none" stroke-linecap="round"/><path d="M250.0,2500.0 C256.7,2493.3 275.0,2472.5 290.0,2460.0 C305.0,2447.5 321.7,2435.0 340.0,2425.0 C358.3,2415.0 383.3,2405.5 400.0,2400.0 C416.7,2394.5 433.3,2393.3 440.0,2392.0" stroke="#5a9ef4" stroke-width="12" fill="none" stroke-linecap="round"/><path d="M262.0,2495.0 Q296.5,2454.5 345.0,2428.0" stroke="#70f0dc" stroke-width="6" fill="none" stroke-linecap="round"/><path d="M280.0,2515.0 C288.3,2508.3 311.7,2486.7 330.0,2475.0 C348.3,2463.3 371.7,2452.5 390.0,2445.0 C408.3,2437.5 431.7,2432.5 440.0,2430.0" stroke="#70f0dc" stroke-width="10" fill="none" stroke-linecap="round"/><path d="M305.0,2525.0 C314.2,2519.2 340.8,2500.0 360.0,2490.0 C379.2,2480.0 405.0,2470.3 420.0,2465.0 C435.0,2459.7 445.0,2459.2 450.0,2458.0" stroke="#5a9ef4" stroke-width="9" fill="none" stroke-linecap="round"/><path d="M330.0,2530.0 Q385.0,2500.0 420.0,2490.0" stroke="#5a9ef4" stroke-width="7" fill="none" stroke-linecap="round"/><ellipse cx="475.0" cy="2388.0" rx="50.0" ry="45.0" fill="#98f020"/><ellipse cx="480.0" cy="2355.0" rx="55.0" ry="12.0" fill="#98f020"/><ellipse cx="470.0" cy="2420.0" rx="35.0" ry="18.0" fill="#94f088"/><rect x="418.0" y="2445.5" width="130.0" height="11.0" rx="5.5" fill="#70f0dc"/><rect x="412.0" y="2466.5" width="128.0" height="11.0" rx="5.5" fill="#94f088"/><rect x="412.0" y="2491.0" width="143.0" height="12.0" rx="6.0" fill="#70f0dc"/><rect x="420.0" y="2516.0" width="125.0" height="12.0" rx="6.0" fill="#94f088"/><rect x="425.0" y="2542.0" width="75.0" height="12.0" rx="6.0" fill="#70f0dc"/><rect x="470.0" y="2565.0" width="20.0" height="10.0" rx="5.0" fill="#5a9ef4"/><rect x="475.0" y="2591.0" width="25.0" height="8.0" rx="4.0" fill="#70f0dc"/><polygon points="156.0,2620.0 440.0,2620.0 440.0,2660.0 156.0,2660.0" fill="#3c7cf4"/><path d="M153.5,2662.0 Q155.7,2587.0 160.0,2512.0 Q164.3,2587.0 166.5,2662.0 Z" fill="#5a9ef4"/><path d="M167.5,2662.0 Q169.7,2593.0 174.0,2524.0 Q178.3,2593.0 180.5,2662.0 Z" fill="#70f0dc"/><path d="M181.5,2662.0 Q183.7,2599.0 188.0,2536.0 Q192.3,2599.0 194.5,2662.0 Z" fill="#5a9ef4"/><path d="M195.5,2662.0 Q197.7,2587.0 202.0,2512.0 Q206.3,2587.0 208.5,2662.0 Z" fill="#70f0dc"/><path d="M209.5,2662.0 Q211.7,2593.0 216.0,2524.0 Q220.3,2593.0 222.5,2662.0 Z" fill="#94f088"/><path d="M223.5,2662.0 Q225.7,2599.0 230.0,2536.0 Q234.3,2599.0 236.5,2662.0 Z" fill="#5a9ef4"/><path d="M237.5,2662.0 Q239.7,2587.0 244.0,2512.0 Q248.3,2587.0 250.5,2662.0 Z" fill="#70f0dc"/><path d="M254.5,2662.0 Q257.0,2630.0 262.0,2598.0 Q267.0,2630.0 269.5,2662.0 Z" fill="#5a9ef4"/><path d="M272.5,2662.0 Q275.0,2634.0 280.0,2606.0 Q285.0,2634.0 287.5,2662.0 Z" fill="#70f0dc"/><path d="M290.5,2662.0 Q293.0,2638.0 298.0,2614.0 Q303.0,2638.0 305.5,2662.0 Z" fill="#5a9ef4"/><path d="M308.5,2662.0 Q311.0,2630.0 316.0,2598.0 Q321.0,2630.0 323.5,2662.0 Z" fill="#70f0dc"/><path d="M326.5,2662.0 Q329.0,2634.0 334.0,2606.0 Q339.0,2634.0 341.5,2662.0 Z" fill="#5a9ef4"/><path d="M344.5,2662.0 Q347.0,2638.0 352.0,2614.0 Q357.0,2638.0 359.5,2662.0 Z" fill="#70f0dc"/><path d="M362.5,2662.0 Q365.0,2630.0 370.0,2598.0 Q375.0,2630.0 377.5,2662.0 Z" fill="#5a9ef4"/><path d="M380.5,2662.0 Q383.0,2634.0 388.0,2606.0 Q393.0,2634.0 395.5,2662.0 Z" fill="#70f0dc"/><path d="M398.5,2662.0 Q401.0,2638.0 406.0,2614.0 Q411.0,2638.0 413.5,2662.0 Z" fill="#5a9ef4"/><path d="M416.5,2662.0 Q419.0,2630.0 424.0,2598.0 Q429.0,2630.0 431.5,2662.0 Z" fill="#70f0dc"/><polygon points="156.0,2618.0 262.0,2618.0 268.0,2658.0 156.0,2658.0" fill="#94f088"/><polygon points="170.0,2630.0 250.0,2630.0 255.0,2658.0 170.0,2658.0" fill="#98f020"/><ellipse cx="224.0" cy="2652.0" rx="7.0" ry="8.0" fill="#ff5a20"/><polygon points="158.0,2664.0 289.0,2664.0 289.0,2688.0 158.0,2688.0" fill="#98f020"/><polygon points="180.0,2668.0 260.0,2668.0 260.0,2684.0 180.0,2684.0" fill="#a8e010"/><polygon points="493.0,2672.0 540.0,2650.0 600.0,2640.0 700.0,2632.0 749.0,2640.0 760.0,2700.0 745.0,2740.0 700.0,2750.0 690.0,2715.0 670.0,2745.0 650.0,2712.0 630.0,2740.0 610.0,2705.0 590.0,2725.0 560.0,2705.0 520.0,2710.0 493.0,2700.0" fill="#70f0dc"/><polygon points="500.0,2675.0 560.0,2655.0 640.0,2648.0 735.0,2650.0 745.0,2700.0 720.0,2730.0 700.0,2705.0 680.0,2730.0 660.0,2700.0 640.0,2725.0 620.0,2695.0 580.0,2700.0 540.0,2695.0 505.0,2690.0" fill="#98f020"/><ellipse cx="620.0" cy="2680.0" rx="60.0" ry="20.0" fill="#b4ee10"/><path d="M514.0,2660.0 Q516.0,2640.0 520.0,2620.0 Q524.0,2640.0 526.0,2660.0 Z" fill="#94f088"/><path d="M534.0,2660.0 Q536.0,2643.0 540.0,2626.0 Q544.0,2643.0 546.0,2660.0 Z" fill="#70f0dc"/><path d="M554.0,2660.0 Q556.0,2646.0 560.0,2632.0 Q564.0,2646.0 566.0,2660.0 Z" fill="#94f088"/><path d="M574.0,2660.0 Q576.0,2640.0 580.0,2620.0 Q584.0,2640.0 586.0,2660.0 Z" fill="#70f0dc"/><path d="M594.0,2660.0 Q596.0,2643.0 600.0,2626.0 Q604.0,2643.0 606.0,2660.0 Z" fill="#94f088"/><path d="M614.0,2660.0 Q616.0,2646.0 620.0,2632.0 Q624.0,2646.0 626.0,2660.0 Z" fill="#70f0dc"/><path d="M634.0,2660.0 Q636.0,2640.0 640.0,2620.0 Q644.0,2640.0 646.0,2660.0 Z" fill="#94f088"/><path d="M654.0,2660.0 Q656.0,2643.0 660.0,2626.0 Q664.0,2643.0 666.0,2660.0 Z" fill="#70f0dc"/><path d="M674.0,2660.0 Q676.0,2646.0 680.0,2632.0 Q684.0,2646.0 686.0,2660.0 Z" fill="#94f088"/><path d="M694.0,2660.0 Q696.0,2640.0 700.0,2620.0 Q704.0,2640.0 706.0,2660.0 Z" fill="#70f0dc"/><path d="M714.0,2660.0 Q716.0,2643.0 720.0,2626.0 Q724.0,2643.0 726.0,2660.0 Z" fill="#94f088"/><path d="M734.0,2660.0 Q736.0,2646.0 740.0,2632.0 Q744.0,2646.0 746.0,2660.0 Z" fill="#70f0dc"/><path d="M750.0,2760.0 Q751.7,2680.0 755.0,2600.0 Q758.3,2680.0 760.0,2760.0 Z" fill="#70f0dc"/><path d="M766.0,2760.0 Q767.7,2690.0 771.0,2620.0 Q774.3,2690.0 776.0,2760.0 Z" fill="#5a9ef4"/><path d="M782.0,2760.0 Q783.7,2680.0 787.0,2600.0 Q790.3,2680.0 792.0,2760.0 Z" fill="#70f0dc"/><path d="M798.0,2760.0 Q799.7,2690.0 803.0,2620.0 Q806.3,2690.0 808.0,2760.0 Z" fill="#5a9ef4"/><path d="M814.0,2760.0 Q815.7,2680.0 819.0,2600.0 Q822.3,2680.0 824.0,2760.0 Z" fill="#70f0dc"/><ellipse cx="492.0" cy="2725.0" rx="70.0" ry="30.0" fill="#70f0dc"/><ellipse cx="500.0" cy="2728.0" rx="40.0" ry="14.0" fill="#94f088"/><ellipse cx="470.0" cy="2760.0" rx="20.0" ry="12.0" fill="#70f0dc"/><rect x="420.0" y="2769.0" width="115.0" height="10.0" rx="5.0" fill="#70f0dc"/><rect x="412.0" y="2808.0" width="88.0" height="10.0" rx="5.0" fill="#5a9ef4"/><rect x="405.0" y="2833.0" width="135.0" height="10.0" rx="5.0" fill="#70f0dc"/><rect x="420.0" y="2851.0" width="120.0" height="8.0" rx="4.0" fill="#5a9ef4"/><polygon points="428.0,2862.0 548.0,2862.0 556.0,2920.0 580.0,2958.0 625.0,2990.0 355.0,2990.0 400.0,2958.0 418.0,2920.0" fill="#5a9ef4"/><polygon points="436.0,2866.0 538.0,2866.0 546.0,2920.0 566.0,2960.0 600.0,2992.0 380.0,2992.0 414.0,2960.0 428.0,2920.0" fill="#70f0dc"/><polygon points="446.0,2872.0 528.0,2872.0 536.0,2920.0 552.0,2962.0 575.0,2993.0 405.0,2993.0 428.0,2962.0 438.0,2920.0" fill="#94f088"/><polygon points="452.0,2880.0 520.0,2880.0 528.0,2922.0 543.0,2964.0 562.0,2994.0 420.0,2994.0 436.0,2964.0 444.0,2922.0" fill="#98f020"/><rect x="405.0" y="2795.5" width="135.0" height="9.0" rx="4.5" fill="#5a9ef4"/><rect x="420.0" y="2822.0" width="100.0" height="8.0" rx="4.0" fill="#70f0dc"/><path d="M257.0,2891.0 C265.8,2898.3 290.0,2922.0 310.0,2935.0 C330.0,2948.0 355.3,2959.8 377.0,2969.0 C398.7,2978.2 421.2,2985.2 440.0,2990.0 C458.8,2994.8 470.0,2998.0 490.0,2998.0 C510.0,2998.0 535.7,2998.0 560.0,2990.0 C584.3,2982.0 614.3,2965.0 636.0,2950.0 C657.7,2935.0 673.8,2918.5 690.0,2900.0 C706.2,2881.5 720.5,2860.7 733.0,2839.0 C745.5,2817.3 757.0,2791.5 765.0,2770.0 C773.0,2748.5 778.3,2720.0 781.0,2710.0" stroke="#5a9ef4" stroke-width="13" fill="none" stroke-linecap="round"/><path d="M330.0,2930.0 C341.7,2937.5 373.3,2964.7 400.0,2975.0 C426.7,2985.3 460.0,2991.2 490.0,2992.0 C520.0,2992.8 555.0,2987.8 580.0,2980.0 C605.0,2972.2 630.0,2950.8 640.0,2945.0" stroke="#70f0dc" stroke-width="12" fill="none" stroke-linecap="round"/><path d="M280.0,2959.0 C290.0,2964.2 318.5,2981.3 340.0,2990.0 C361.5,2998.7 384.0,3005.7 409.0,3011.0 C434.0,3016.3 463.2,3022.2 490.0,3022.0 C516.8,3021.8 543.0,3016.7 570.0,3010.0 C597.0,3003.3 638.3,2986.7 652.0,2982.0" stroke="#5a9ef4" stroke-width="10" fill="none" stroke-linecap="round"/><rect x="440.0" y="3014.0" width="100.0" height="8.0" rx="4.0" fill="#70f0dc"/><path d="M205.0,2693.0 Q201.0,2738.5 205.0,2790.0" stroke="#5a9ef4" stroke-width="6" fill="none" stroke-linecap="round"/><ellipse cx="190.0" cy="2820.0" rx="20.0" ry="7.0" fill="#5a9ef4" transform="rotate(30 190 2820)"/><ellipse cx="230.0" cy="2825.0" rx="22.0" ry="6.0" fill="#5a9ef4" transform="rotate(45 230 2825)"/><ellipse cx="262.0" cy="2940.0" rx="8.0" ry="5.0" fill="#5a9ef4"/></g>
<rect x="156" y="2656" width="337" height="7" fill="#02101e"/><rect x="156" y="2663" width="337" height="8" fill="#0a1c70" opacity="0.7"/><rect x="156" y="2685" width="337" height="9" fill="#000a50"/><path d="M485,2658 Q496,2659 496,2675 Q496,2691 485,2692" stroke="#001040" stroke-width="4" fill="none"/>
</g>
<rect x="156" y="2148" width="663" height="2" fill="#1024b0" opacity="0.8"/>
<rect x="156" y="3021" width="663" height="3" fill="#0c0c80" opacity="0.8"/>
<rect x="156" y="2148" width="4" height="876" fill="#8474e4" opacity="0.85"/>
<rect x="816" y="2148" width="3" height="876" fill="#2424a8" opacity="0.7"/>
<g clip-path="url(#cph)">
<rect x="1344" y="2148" width="680" height="878" fill="#0a3aff"/>
<rect x="1344" y="2626" width="680" height="39" fill="#0030ec"/><rect x="1692" y="2681" width="332" height="8" fill="#0a34f4"/><rect x="1344" y="2667" width="348" height="9" fill="#0a2080"/><rect x="1344" y="2676" width="348" height="9" fill="#1a24ff"/><rect x="1344" y="2694" width="348" height="6" fill="#2a2aff"/>
<g filter="url(#b2)"><polygon points="1345.0,2150.0 2023.0,2150.0 2023.0,2190.0 1960.0,2230.0 1900.0,2262.0 1800.0,2283.0 1600.0,2288.0 1450.0,2280.0 1425.0,2240.0 1385.0,2228.0 1345.0,2222.0" fill="#5a9ef4"/><rect x="1345.0" y="2150.0" width="72.0" height="25.0" rx="12.5" fill="#70f0dc"/><rect x="1360.0" y="2152.0" width="40.0" height="16.0" rx="8.0" fill="#94f088"/><rect x="1451.0" y="2150.0" width="52.0" height="22.0" rx="11.0" fill="#70f0dc"/><rect x="1470.0" y="2152.0" width="25.0" height="13.0" rx="6.5" fill="#94f088"/><rect x="1529.0" y="2150.0" width="46.0" height="22.0" rx="11.0" fill="#70f0dc"/><ellipse cx="1430.0" cy="2160.0" rx="12.0" ry="8.0" fill="#1a44f0"/><ellipse cx="1520.0" cy="2165.0" rx="10.0" ry="8.0" fill="#1a44f0"/><ellipse cx="1490.0" cy="2203.0" rx="75.0" ry="22.0" fill="#70f0dc"/><ellipse cx="1487.0" cy="2207.0" rx="16.0" ry="11.0" fill="#0a3aff"/><ellipse cx="1372.0" cy="2212.0" rx="28.0" ry="10.0" fill="#70f0dc" transform="rotate(-30 1372 2212)"/><ellipse cx="1380.0" cy="2262.0" rx="34.0" ry="11.0" fill="#5a9ef4" transform="rotate(-40 1380 2262)"/><ellipse cx="1380.0" cy="2262.0" rx="20.0" ry="5.0" fill="#70f0dc" transform="rotate(-40 1380 2262)"/><ellipse cx="1425.0" cy="2300.0" rx="10.0" ry="5.0" fill="#5a9ef4"/><ellipse cx="1680.0" cy="2185.0" rx="110.0" ry="42.0" fill="#70f0dc"/><rect x="1603.0" y="2150.0" width="148.0" height="69.0" rx="25.0" fill="#98f020"/><ellipse cx="1672.0" cy="2172.0" rx="34.0" ry="10.0" fill="#c8e020"/><ellipse cx="1672.0" cy="2168.0" rx="14.0" ry="4.0" fill="#ff5a20" opacity="0.7"/><ellipse cx="1792.0" cy="2162.0" rx="48.0" ry="13.0" fill="#1a44f0"/><ellipse cx="1912.0" cy="2168.0" rx="22.0" ry="16.0" fill="#1a44f0"/><polygon points="2000.0,2150.0 2023.0,2150.0 2023.0,2200.0 2005.0,2185.0" fill="#0a3aff"/><rect x="1843.0" y="2150.0" width="56.0" height="20.0" rx="10.0" fill="#70f0dc"/><rect x="1935.0" y="2152.0" width="70.0" height="21.0" rx="10.5" fill="#70f0dc"/><ellipse cx="1897.0" cy="2196.0" rx="28.0" ry="13.0" fill="#70f0dc"/><ellipse cx="1862.0" cy="2210.0" rx="18.0" ry="10.0" fill="#0a3aff"/><ellipse cx="1780.0" cy="2195.0" rx="30.0" ry="14.0" fill="#70f0dc" opacity="0.7"/><ellipse cx="1993.0" cy="2220.0" rx="32.0" ry="10.0" fill="#5a9ef4" transform="rotate(45 1993 2220)"/><ellipse cx="1790.0" cy="2240.0" rx="60.0" ry="16.0" fill="#5a9ef4"/><rect x="1600.0" y="2233.0" width="150.0" height="14.0" rx="7.0" fill="#5a9ef4"/><rect x="1619.0" y="2235.5" width="115.0" height="9.0" rx="4.5" fill="#70f0dc"/><rect x="1580.0" y="2249.0" width="190.0" height="14.0" rx="7.0" fill="#5a9ef4"/><rect x="1600.0" y="2252.0" width="140.0" height="8.0" rx="4.0" fill="#70f0dc"/><rect x="1600.0" y="2271.0" width="190.0" height="16.0" rx="8.0" fill="#5a9ef4"/><rect x="1629.0" y="2274.0" width="141.0" height="10.0" rx="5.0" fill="#70f0dc"/><rect x="1565.0" y="2291.0" width="195.0" height="16.0" rx="8.0" fill="#5a9ef4"/><rect x="1600.0" y="2295.0" width="130.0" height="8.0" rx="4.0" fill="#70f0dc"/><rect x="1565.0" y="2308.0" width="200.0" height="20.0" rx="10.0" fill="#5a9ef4"/><rect x="1585.0" y="2311.0" width="160.0" height="14.0" rx="7.0" fill="#70f0dc"/><rect x="1610.0" y="2314.0" width="110.0" height="8.0" rx="4.0" fill="#94f088"/><rect x="1558.0" y="2331.0" width="227.0" height="20.0" rx="10.0" fill="#5a9ef4"/><rect x="1575.0" y="2334.0" width="185.0" height="14.0" rx="7.0" fill="#70f0dc"/><rect x="1610.0" y="2337.0" width="130.0" height="8.0" rx="4.0" fill="#94f088"/><rect x="1572.0" y="2354.0" width="228.0" height="20.0" rx="10.0" fill="#5a9ef4"/><rect x="1590.0" y="2357.0" width="190.0" height="14.0" rx="7.0" fill="#70f0dc"/><rect x="1610.0" y="2360.0" width="125.0" height="8.0" rx="4.0" fill="#94f088"/><rect x="1580.0" y="2380.0" width="200.0" height="20.0" rx="10.0" fill="#5a9ef4"/><rect x="1595.0" y="2383.0" width="165.0" height="14.0" rx="7.0" fill="#70f0dc"/><rect x="1610.0" y="2386.0" width="110.0" height="8.0" rx="4.0" fill="#94f088"/><rect x="1565.0" y="2408.0" width="230.0" height="18.0" rx="9.0" fill="#5a9ef4"/><rect x="1585.0" y="2410.5" width="115.0" height="13.0" rx="6.5" fill="#94f088"/><rect x="1580.0" y="2441.0" width="120.0" height="16.0" rx="8.0" fill="#5a9ef4"/><rect x="1595.0" y="2444.0" width="95.0" height="10.0" rx="5.0" fill="#70f0dc"/><rect x="1612.0" y="2486.0" width="73.0" height="12.0" rx="6.0" fill="#5a9ef4"/><rect x="1925.0" y="2453.5" width="49.0" height="7.0" rx="3.5" fill="#5a9ef4"/><rect x="1674" y="2436" width="18" height="220" rx="8" fill="#5a9ef4"/><rect x="1679" y="2436" width="8" height="220" fill="#70f0dc"/><path d="M1344.0,2660.0 Q1346.0,2624.0 1350.0,2588.0 Q1354.0,2624.0 1356.0,2660.0 Z" fill="#70f0dc"/><path d="M1360.0,2660.0 Q1362.0,2629.0 1366.0,2598.0 Q1370.0,2629.0 1372.0,2660.0 Z" fill="#5a9ef4"/><path d="M1376.0,2660.0 Q1378.0,2634.0 1382.0,2608.0 Q1386.0,2634.0 1388.0,2660.0 Z" fill="#5a9ef4"/><path d="M1392.0,2660.0 Q1394.0,2624.0 1398.0,2588.0 Q1402.0,2624.0 1404.0,2660.0 Z" fill="#70f0dc"/><path d="M1408.0,2660.0 Q1410.0,2629.0 1414.0,2598.0 Q1418.0,2629.0 1420.0,2660.0 Z" fill="#5a9ef4"/><path d="M1424.0,2660.0 Q1426.0,2634.0 1430.0,2608.0 Q1434.0,2634.0 1436.0,2660.0 Z" fill="#5a9ef4"/><path d="M1440.0,2660.0 Q1442.0,2624.0 1446.0,2588.0 Q1450.0,2624.0 1452.0,2660.0 Z" fill="#70f0dc"/><path d="M1456.0,2660.0 Q1458.0,2629.0 1462.0,2598.0 Q1466.0,2629.0 1468.0,2660.0 Z" fill="#5a9ef4"/><path d="M1472.0,2660.0 Q1474.0,2634.0 1478.0,2608.0 Q1482.0,2634.0 1484.0,2660.0 Z" fill="#5a9ef4"/><path d="M1488.0,2660.0 Q1490.0,2624.0 1494.0,2588.0 Q1498.0,2624.0 1500.0,2660.0 Z" fill="#70f0dc"/><path d="M1504.0,2660.0 Q1506.0,2629.0 1510.0,2598.0 Q1514.0,2629.0 1516.0,2660.0 Z" fill="#5a9ef4"/><path d="M1520.0,2660.0 Q1522.0,2634.0 1526.0,2608.0 Q1530.0,2634.0 1532.0,2660.0 Z" fill="#5a9ef4"/><path d="M1552.0,2660.0 Q1554.0,2629.0 1558.0,2598.0 Q1562.0,2629.0 1564.0,2660.0 Z" fill="#5a9ef4"/><path d="M1568.0,2660.0 Q1570.0,2634.0 1574.0,2608.0 Q1578.0,2634.0 1580.0,2660.0 Z" fill="#5a9ef4"/><path d="M1584.0,2660.0 Q1586.0,2624.0 1590.0,2588.0 Q1594.0,2624.0 1596.0,2660.0 Z" fill="#70f0dc"/><polygon points="1345.0,2590.0 1440.0,2590.0 1440.0,2656.0 1345.0,2656.0" fill="#5a9ef4"/><path d="M1349.0,2656.0 Q1350.0,2620.5 1352.0,2585.0 Q1354.0,2620.5 1355.0,2656.0 Z" fill="#70f0dc"/><path d="M1365.0,2656.0 Q1366.0,2620.5 1368.0,2585.0 Q1370.0,2620.5 1371.0,2656.0 Z" fill="#70f0dc"/><path d="M1382.0,2656.0 Q1383.0,2620.5 1385.0,2585.0 Q1387.0,2620.5 1388.0,2656.0 Z" fill="#70f0dc"/><path d="M1397.0,2656.0 Q1398.0,2620.5 1400.0,2585.0 Q1402.0,2620.5 1403.0,2656.0 Z" fill="#70f0dc"/><path d="M1417.0,2656.0 Q1418.0,2620.5 1420.0,2585.0 Q1422.0,2620.5 1423.0,2656.0 Z" fill="#70f0dc"/><path d="M1430.0,2656.0 Q1431.0,2620.5 1433.0,2585.0 Q1435.0,2620.5 1436.0,2656.0 Z" fill="#70f0dc"/><polygon points="1692.0,2662.0 1800.0,2662.0 1800.0,2718.0 1692.0,2718.0" fill="#5a9ef4"/><polygon points="1692.0,2668.0 1790.0,2668.0 1790.0,2705.0 1692.0,2705.0" fill="#70f0dc"/><polygon points="1800.0,2640.0 2023.0,2630.0 2023.0,2730.0 1800.0,2725.0" fill="#70f0dc"/><rect x="1800.0" y="2592.0" width="10.0" height="68.0" rx="5.0" fill="#70f0dc"/><rect x="1807.5" y="2700.0" width="9.0" height="90.0" rx="4.5" fill="#70f0dc"/><rect x="1814.0" y="2606.0" width="10.0" height="54.0" rx="5.0" fill="#5a9ef4"/><rect x="1821.5" y="2700.0" width="9.0" height="70.0" rx="4.5" fill="#5a9ef4"/><rect x="1828.0" y="2620.0" width="10.0" height="40.0" rx="5.0" fill="#70f0dc"/><rect x="1835.5" y="2700.0" width="9.0" height="50.0" rx="4.5" fill="#70f0dc"/><rect x="1842.0" y="2592.0" width="10.0" height="68.0" rx="5.0" fill="#5a9ef4"/><rect x="1849.5" y="2700.0" width="9.0" height="90.0" rx="4.5" fill="#5a9ef4"/><rect x="1856.0" y="2606.0" width="10.0" height="54.0" rx="5.0" fill="#70f0dc"/><rect x="1863.5" y="2700.0" width="9.0" height="70.0" rx="4.5" fill="#70f0dc"/><rect x="1870.0" y="2620.0" width="10.0" height="40.0" rx="5.0" fill="#5a9ef4"/><rect x="1877.5" y="2700.0" width="9.0" height="50.0" rx="4.5" fill="#5a9ef4"/><rect x="1884.0" y="2592.0" width="10.0" height="68.0" rx="5.0" fill="#70f0dc"/><rect x="1891.5" y="2700.0" width="9.0" height="90.0" rx="4.5" fill="#70f0dc"/><rect x="1898.0" y="2606.0" width="10.0" height="54.0" rx="5.0" fill="#5a9ef4"/><rect x="1905.5" y="2700.0" width="9.0" height="70.0" rx="4.5" fill="#5a9ef4"/><rect x="1912.0" y="2620.0" width="10.0" height="40.0" rx="5.0" fill="#70f0dc"/><rect x="1919.5" y="2700.0" width="9.0" height="50.0" rx="4.5" fill="#70f0dc"/><rect x="1926.0" y="2592.0" width="10.0" height="68.0" rx="5.0" fill="#5a9ef4"/><rect x="1933.5" y="2700.0" width="9.0" height="90.0" rx="4.5" fill="#5a9ef4"/><rect x="1940.0" y="2606.0" width="10.0" height="54.0" rx="5.0" fill="#70f0dc"/><rect x="1947.5" y="2700.0" width="9.0" height="70.0" rx="4.5" fill="#70f0dc"/><rect x="1954.0" y="2620.0" width="10.0" height="40.0" rx="5.0" fill="#5a9ef4"/><rect x="1961.5" y="2700.0" width="9.0" height="50.0" rx="4.5" fill="#5a9ef4"/><rect x="1968.0" y="2592.0" width="10.0" height="68.0" rx="5.0" fill="#70f0dc"/><rect x="1975.5" y="2700.0" width="9.0" height="90.0" rx="4.5" fill="#70f0dc"/><rect x="1982.0" y="2606.0" width="10.0" height="54.0" rx="5.0" fill="#5a9ef4"/><rect x="1989.5" y="2700.0" width="9.0" height="70.0" rx="4.5" fill="#5a9ef4"/><rect x="1996.0" y="2620.0" width="10.0" height="40.0" rx="5.0" fill="#70f0dc"/><rect x="2003.5" y="2700.0" width="9.0" height="50.0" rx="4.5" fill="#70f0dc"/><rect x="2010.0" y="2592.0" width="10.0" height="68.0" rx="5.0" fill="#5a9ef4"/><rect x="2017.5" y="2700.0" width="9.0" height="90.0" rx="4.5" fill="#5a9ef4"/><polygon points="1830.0,2645.0 2023.0,2640.0 2023.0,2722.0 1830.0,2718.0" fill="#94f088"/><polygon points="1860.0,2650.0 2023.0,2645.0 2023.0,2715.0 1860.0,2712.0" fill="#98f020"/><ellipse cx="1880.0" cy="2680.0" rx="8.0" ry="26.0" fill="#94f088"/><ellipse cx="1925.0" cy="2680.0" rx="8.0" ry="26.0" fill="#94f088"/><ellipse cx="1965.0" cy="2680.0" rx="8.0" ry="26.0" fill="#94f088"/><ellipse cx="2005.0" cy="2680.0" rx="8.0" ry="26.0" fill="#94f088"/><rect x="1507.5" y="2698.0" width="9.0" height="97.0" rx="4.5" fill="#5a9ef4"/><rect x="1520.5" y="2698.0" width="9.0" height="79.0" rx="4.5" fill="#5a9ef4"/><rect x="1533.5" y="2698.0" width="9.0" height="61.0" rx="4.5" fill="#5a9ef4"/><rect x="1546.5" y="2698.0" width="9.0" height="43.0" rx="4.5" fill="#5a9ef4"/><rect x="1559.5" y="2698.0" width="9.0" height="97.0" rx="4.5" fill="#5a9ef4"/><rect x="1572.5" y="2698.0" width="9.0" height="79.0" rx="4.5" fill="#5a9ef4"/><rect x="1585.5" y="2698.0" width="9.0" height="61.0" rx="4.5" fill="#5a9ef4"/><rect x="1598.5" y="2698.0" width="9.0" height="43.0" rx="4.5" fill="#5a9ef4"/><rect x="1611.5" y="2698.0" width="9.0" height="97.0" rx="4.5" fill="#5a9ef4"/><rect x="1624.5" y="2698.0" width="9.0" height="79.0" rx="4.5" fill="#5a9ef4"/><rect x="1637.5" y="2698.0" width="9.0" height="61.0" rx="4.5" fill="#5a9ef4"/><rect x="1650.5" y="2698.0" width="9.0" height="43.0" rx="4.5" fill="#5a9ef4"/><rect x="1663.5" y="2698.0" width="9.0" height="97.0" rx="4.5" fill="#5a9ef4"/><rect x="1676.5" y="2698.0" width="9.0" height="79.0" rx="4.5" fill="#5a9ef4"/><rect x="1689.5" y="2698.0" width="9.0" height="61.0" rx="4.5" fill="#5a9ef4"/><rect x="1702.5" y="2698.0" width="9.0" height="43.0" rx="4.5" fill="#5a9ef4"/><rect x="1715.5" y="2698.0" width="9.0" height="97.0" rx="4.5" fill="#5a9ef4"/><rect x="1728.5" y="2698.0" width="9.0" height="79.0" rx="4.5" fill="#5a9ef4"/><rect x="1741.5" y="2698.0" width="9.0" height="61.0" rx="4.5" fill="#5a9ef4"/><rect x="1754.5" y="2698.0" width="9.0" height="43.0" rx="4.5" fill="#5a9ef4"/><polygon points="1692.0,2700.0 1790.0,2700.0 1790.0,2720.0 1692.0,2720.0" fill="#5a9ef4"/><rect x="1577.0" y="2812.0" width="223.0" height="20.0" rx="10.0" fill="#5a9ef4"/><rect x="1640.0" y="2818.0" width="100.0" height="8.0" rx="4.0" fill="#70f0dc"/><rect x="1800.0" y="2804.0" width="105.0" height="12.0" rx="6.0" fill="#5a9ef4"/><rect x="1578.0" y="2860.0" width="198.0" height="18.0" rx="9.0" fill="#5a9ef4"/><rect x="1620.0" y="2864.0" width="80.0" height="10.0" rx="5.0" fill="#70f0dc"/><rect x="1575.0" y="2899.0" width="170.0" height="16.0" rx="8.0" fill="#5a9ef4"/><rect x="1615.0" y="2902.5" width="75.0" height="9.0" rx="4.5" fill="#70f0dc"/><rect x="1584.0" y="2925.0" width="104.0" height="14.0" rx="7.0" fill="#5a9ef4"/><rect x="1683.0" y="2950.5" width="59.0" height="9.0" rx="4.5" fill="#5a9ef4"/><rect x="1584.0" y="2964.0" width="182.0" height="16.0" rx="8.0" fill="#5a9ef4"/><rect x="1625.0" y="2971.0" width="100.0" height="8.0" rx="4.0" fill="#70f0dc"/><rect x="1568.0" y="2988.0" width="208.0" height="18.0" rx="9.0" fill="#5a9ef4"/><rect x="1590.0" y="2991.5" width="130.0" height="11.0" rx="5.5" fill="#70f0dc"/><rect x="1620.0" y="2994.0" width="70.0" height="6.0" rx="3.0" fill="#94f088"/><rect x="1560.0" y="3011.0" width="225.0" height="16.0" rx="8.0" fill="#5a9ef4"/><rect x="1590.0" y="3014.0" width="130.0" height="10.0" rx="5.0" fill="#70f0dc"/><rect x="1620.0" y="3016.5" width="70.0" height="5.0" rx="2.5" fill="#94f088"/></g>
<rect x="1344" y="2656" width="348" height="7" fill="#02101e"/><rect x="1344" y="2663" width="348" height="8" fill="#0a1c70" opacity="0.7"/><rect x="1344" y="2685" width="348" height="9" fill="#000a50"/><path d="M1684,2658 Q1695,2659 1695,2675 Q1695,2691 1684,2692" stroke="#001040" stroke-width="4" fill="none"/>
</g>
<rect x="1344" y="2148" width="680" height="2" fill="#1024b0" opacity="0.8"/>
<rect x="1344" y="3023" width="680" height="3" fill="#0c0c80" opacity="0.8"/>
<rect x="1344" y="2148" width="4" height="878" fill="#8474e4" opacity="0.85"/>
<rect x="2021" y="2148" width="3" height="878" fill="#2424a8" opacity="0.7"/>
<g clip-path="url(#cpi)">
<rect x="2521" y="2149" width="678" height="876" fill="#0a3aff"/>
<rect x="2521" y="2627" width="678" height="39" fill="#0030ec"/><rect x="2867" y="2682" width="332" height="8" fill="#0a34f4"/><rect x="2521" y="2668" width="346" height="9" fill="#0a2080"/><rect x="2521" y="2677" width="346" height="9" fill="#1a24ff"/><rect x="2521" y="2695" width="346" height="6" fill="#2a2aff"/>
<g filter="url(#b2)"><ellipse cx="2708.0" cy="2165.0" rx="16.0" ry="12.0" fill="#5a9ef4"/><ellipse cx="2843.0" cy="2160.0" rx="32.0" ry="6.0" fill="#5a9ef4"/><ellipse cx="2940.0" cy="2183.0" rx="58.0" ry="9.0" fill="#5a9ef4"/><ellipse cx="2743.0" cy="2190.0" rx="22.0" ry="4.0" fill="#5a9ef4"/><ellipse cx="2660.0" cy="2232.0" rx="18.0" ry="5.0" fill="#5a9ef4"/><rect x="2712.0" y="2205.0" width="279.0" height="81.0" rx="28.0" fill="#5a9ef4"/><rect x="2742.0" y="2207.0" width="218.0" height="77.0" rx="26.0" fill="#70f0dc"/><rect x="2785.0" y="2220.0" width="135.0" height="62.0" rx="22.0" fill="#94f088"/><rect x="2795.0" y="2225.0" width="120.0" height="55.0" rx="20.0" fill="#98f020"/><rect x="2821.0" y="2245.0" width="75.0" height="6.0" rx="3.0" fill="#ff5a20"/><rect x="2830.0" y="2254.0" width="34.0" height="18.0" rx="8.0" fill="#e8e820"/><rect x="2735.0" y="2288.5" width="230.0" height="7.0" rx="3.5" fill="#0a3aff"/><rect x="2706.0" y="2298.0" width="285.0" height="40.0" rx="18.0" fill="#70f0dc"/><rect x="2700.0" y="2300.0" width="20.0" height="36.0" rx="10.0" fill="#5a9ef4"/><rect x="2790.0" y="2300.0" width="125.0" height="36.0" rx="16.0" fill="#98f020"/><rect x="2830.0" y="2304.0" width="34.0" height="22.0" rx="8.0" fill="#e8e820"/><rect x="2750.0" y="2337.5" width="210.0" height="5.0" rx="2.5" fill="#0a3aff"/><path d="M2548.0,2343.0 C2556.7,2344.2 2581.3,2346.3 2600.0,2350.0 C2618.7,2353.7 2640.0,2359.2 2660.0,2365.0 C2680.0,2370.8 2703.3,2379.5 2720.0,2385.0 C2736.7,2390.5 2753.3,2395.8 2760.0,2398.0" stroke="#5a9ef4" stroke-width="18" fill="none" stroke-linecap="round"/><path d="M3150.0,2343.0 C3140.0,2344.5 3110.0,2347.8 3090.0,2352.0 C3070.0,2356.2 3050.0,2362.5 3030.0,2368.0 C3010.0,2373.5 2986.7,2380.0 2970.0,2385.0 C2953.3,2390.0 2936.7,2395.8 2930.0,2398.0" stroke="#5a9ef4" stroke-width="18" fill="none" stroke-linecap="round"/><path d="M2630.0,2318.0 Q2685.0,2331.0 2720.0,2340.0" stroke="#5a9ef4" stroke-width="8" fill="none" stroke-linecap="round"/><path d="M3040.0,2340.0 Q3010.0,2344.0 2980.0,2352.0" stroke="#5a9ef4" stroke-width="8" fill="none" stroke-linecap="round"/><rect x="2640.0" y="2344.0" width="401.0" height="34.0" rx="17.0" fill="#70f0dc"/><rect x="2700.0" y="2348.0" width="290.0" height="28.0" rx="14.0" fill="#94f088"/><rect x="2760.0" y="2350.0" width="190.0" height="25.0" rx="12.0" fill="#98f020"/><rect x="2817.0" y="2354.5" width="43.0" height="5.0" rx="2.5" fill="#ff5a20"/><path d="M2560.0,2398.0 C2570.0,2400.0 2596.7,2406.3 2620.0,2410.0 C2643.3,2413.7 2661.7,2417.5 2700.0,2420.0 C2738.3,2422.5 2800.0,2425.0 2850.0,2425.0 C2900.0,2425.0 2961.7,2422.5 3000.0,2420.0 C3038.3,2417.5 3055.8,2413.7 3080.0,2410.0 C3104.2,2406.3 3134.2,2400.0 3145.0,2398.0" stroke="#5a9ef4" stroke-width="40" fill="none" stroke-linecap="round"/><path d="M2600.0,2402.0 C2616.7,2404.7 2658.3,2414.7 2700.0,2418.0 C2741.7,2421.3 2800.0,2422.0 2850.0,2422.0 C2900.0,2422.0 2958.3,2421.3 3000.0,2418.0 C3041.7,2414.7 3083.3,2404.7 3100.0,2402.0" stroke="#70f0dc" stroke-width="32" fill="none" stroke-linecap="round"/><path d="M2690.0,2416.0 Q2850.0,2432.0 3010.0,2416.0" stroke="#94f088" stroke-width="24" fill="none" stroke-linecap="round"/><path d="M2730.0,2420.0 Q2850.0,2430.0 2970.0,2420.0" stroke="#98f020" stroke-width="18" fill="none" stroke-linecap="round"/><path d="M2628.0,2455.0 C2640.0,2457.2 2663.0,2464.2 2700.0,2468.0 C2737.0,2471.8 2800.0,2477.7 2850.0,2478.0 C2900.0,2478.3 2960.0,2473.3 3000.0,2470.0 C3040.0,2466.7 3075.0,2460.0 3090.0,2458.0" stroke="#5a9ef4" stroke-width="26" fill="none" stroke-linecap="round"/><path d="M2760.0,2470.0 Q2840.0,2482.0 2960.0,2470.0" stroke="#70f0dc" stroke-width="10" fill="none" stroke-linecap="round"/><polygon points="2525.0,2585.0 3195.0,2585.0 3195.0,2657.0 2525.0,2657.0" fill="#5a9ef4" opacity="0.6"/><rect x="2525.0" y="2532.0" width="10.0" height="126.0" rx="5.0" fill="#5a9ef4"/><rect x="2540.0" y="2560.0" width="10.0" height="98.0" rx="5.0" fill="#70f0dc"/><rect x="2555.0" y="2545.0" width="10.0" height="113.0" rx="5.0" fill="#5a9ef4"/><rect x="2570.0" y="2575.0" width="10.0" height="83.0" rx="5.0" fill="#5a9ef4"/><rect x="2585.0" y="2550.0" width="10.0" height="108.0" rx="5.0" fill="#94f088"/><rect x="2600.0" y="2538.0" width="10.0" height="120.0" rx="5.0" fill="#5a9ef4"/><rect x="2615.0" y="2568.0" width="10.0" height="90.0" rx="5.0" fill="#70f0dc"/><rect x="2630.0" y="2555.0" width="10.0" height="103.0" rx="5.0" fill="#5a9ef4"/><rect x="2645.0" y="2580.0" width="10.0" height="78.0" rx="5.0" fill="#5a9ef4"/><rect x="2660.0" y="2542.0" width="10.0" height="116.0" rx="5.0" fill="#70f0dc"/><rect x="2675.0" y="2565.0" width="10.0" height="93.0" rx="5.0" fill="#5a9ef4"/><rect x="2690.0" y="2548.0" width="10.0" height="110.0" rx="5.0" fill="#94f088"/><rect x="2705.0" y="2532.0" width="10.0" height="126.0" rx="5.0" fill="#5a9ef4"/><rect x="2720.0" y="2560.0" width="10.0" height="98.0" rx="5.0" fill="#70f0dc"/><rect x="2735.0" y="2545.0" width="10.0" height="113.0" rx="5.0" fill="#5a9ef4"/><rect x="2750.0" y="2575.0" width="10.0" height="83.0" rx="5.0" fill="#5a9ef4"/><rect x="2765.0" y="2550.0" width="10.0" height="108.0" rx="5.0" fill="#94f088"/><rect x="2780.0" y="2538.0" width="10.0" height="120.0" rx="5.0" fill="#5a9ef4"/><rect x="2795.0" y="2568.0" width="10.0" height="90.0" rx="5.0" fill="#70f0dc"/><rect x="2810.0" y="2555.0" width="10.0" height="103.0" rx="5.0" fill="#5a9ef4"/><rect x="2825.0" y="2580.0" width="10.0" height="78.0" rx="5.0" fill="#5a9ef4"/><rect x="2840.0" y="2542.0" width="10.0" height="116.0" rx="5.0" fill="#70f0dc"/><rect x="2855.0" y="2565.0" width="10.0" height="93.0" rx="5.0" fill="#5a9ef4"/><rect x="2870.0" y="2548.0" width="10.0" height="110.0" rx="5.0" fill="#94f088"/><rect x="2885.0" y="2532.0" width="10.0" height="126.0" rx="5.0" fill="#5a9ef4"/><rect x="2900.0" y="2560.0" width="10.0" height="98.0" rx="5.0" fill="#70f0dc"/><rect x="2915.0" y="2545.0" width="10.0" height="113.0" rx="5.0" fill="#5a9ef4"/><rect x="2930.0" y="2575.0" width="10.0" height="83.0" rx="5.0" fill="#5a9ef4"/><rect x="2945.0" y="2550.0" width="10.0" height="108.0" rx="5.0" fill="#94f088"/><rect x="2960.0" y="2538.0" width="10.0" height="120.0" rx="5.0" fill="#5a9ef4"/><rect x="2975.0" y="2568.0" width="10.0" height="90.0" rx="5.0" fill="#70f0dc"/><rect x="2990.0" y="2555.0" width="10.0" height="103.0" rx="5.0" fill="#5a9ef4"/><rect x="3005.0" y="2580.0" width="10.0" height="78.0" rx="5.0" fill="#5a9ef4"/><rect x="3020.0" y="2542.0" width="10.0" height="116.0" rx="5.0" fill="#70f0dc"/><rect x="3035.0" y="2565.0" width="10.0" height="93.0" rx="5.0" fill="#5a9ef4"/><rect x="3050.0" y="2548.0" width="10.0" height="110.0" rx="5.0" fill="#94f088"/><rect x="3065.0" y="2532.0" width="10.0" height="126.0" rx="5.0" fill="#5a9ef4"/><rect x="3080.0" y="2560.0" width="10.0" height="98.0" rx="5.0" fill="#70f0dc"/><rect x="3095.0" y="2545.0" width="10.0" height="113.0" rx="5.0" fill="#5a9ef4"/><rect x="3110.0" y="2575.0" width="10.0" height="83.0" rx="5.0" fill="#5a9ef4"/><rect x="3125.0" y="2550.0" width="10.0" height="108.0" rx="5.0" fill="#94f088"/><rect x="3140.0" y="2538.0" width="10.0" height="120.0" rx="5.0" fill="#5a9ef4"/><rect x="3155.0" y="2568.0" width="10.0" height="90.0" rx="5.0" fill="#70f0dc"/><rect x="3170.0" y="2555.0" width="10.0" height="103.0" rx="5.0" fill="#5a9ef4"/><rect x="3185.0" y="2580.0" width="10.0" height="78.0" rx="5.0" fill="#5a9ef4"/><polygon points="2525.0,2605.0 2680.0,2605.0 2680.0,2656.0 2525.0,2656.0" fill="#94f088" opacity="0.85"/><polygon points="2555.0,2615.0 2650.0,2615.0 2650.0,2652.0 2555.0,2652.0" fill="#98f020" opacity="0.6"/><polygon points="2880.0,2600.0 2960.0,2600.0 2960.0,2650.0 2880.0,2650.0" fill="#70f0dc" opacity="0.5"/><ellipse cx="2760.0" cy="2525.0" rx="45.0" ry="8.0" fill="#5a9ef4"/><rect x="2858" y="2465" width="18" height="380" rx="8" fill="#5a9ef4"/><rect x="2862" y="2465" width="10" height="380" fill="#70f0dc"/><rect x="2865" y="2480" width="5" height="360" fill="#94f088"/><polygon points="3008.0,2646.0 3195.0,2646.0 3195.0,2720.0 3008.0,2720.0" fill="#70f0dc"/><polygon points="3030.0,2650.0 3195.0,2650.0 3195.0,2700.0 3030.0,2700.0" fill="#94f088"/><ellipse cx="3140.0" cy="2680.0" rx="40.0" ry="25.0" fill="#98f020"/><path d="M3003,2715 L3010,2810 L3017,2715 Z" fill="#5a9ef4"/><path d="M3019,2715 L3026,2785 L3033,2715 Z" fill="#70f0dc"/><path d="M3035,2715 L3042,2760 L3049,2715 Z" fill="#5a9ef4"/><path d="M3051,2715 L3058,2810 L3065,2715 Z" fill="#70f0dc"/><path d="M3067,2715 L3074,2785 L3081,2715 Z" fill="#5a9ef4"/><path d="M3083,2715 L3090,2760 L3097,2715 Z" fill="#70f0dc"/><path d="M3099,2715 L3106,2810 L3113,2715 Z" fill="#5a9ef4"/><path d="M3115,2715 L3122,2785 L3129,2715 Z" fill="#70f0dc"/><path d="M3131,2715 L3138,2760 L3145,2715 Z" fill="#5a9ef4"/><path d="M3147,2715 L3154,2810 L3161,2715 Z" fill="#70f0dc"/><path d="M3163,2715 L3170,2785 L3177,2715 Z" fill="#5a9ef4"/><path d="M3179,2715 L3186,2760 L3193,2715 Z" fill="#70f0dc"/><path d="M2865,2672 L2870,2790 L2875,2672 Z" fill="#5a9ef4"/><path d="M2879,2672 L2884,2765 L2889,2672 Z" fill="#5a9ef4"/><path d="M2893,2672 L2898,2740 L2903,2672 Z" fill="#5a9ef4"/><path d="M2907,2672 L2912,2790 L2917,2672 Z" fill="#5a9ef4"/><path d="M2921,2672 L2926,2765 L2931,2672 Z" fill="#5a9ef4"/><path d="M2935,2672 L2940,2740 L2945,2672 Z" fill="#5a9ef4"/><path d="M2949,2672 L2954,2790 L2959,2672 Z" fill="#5a9ef4"/><path d="M2963,2672 L2968,2765 L2973,2672 Z" fill="#5a9ef4"/><path d="M2977,2672 L2982,2740 L2987,2672 Z" fill="#5a9ef4"/><path d="M2991,2672 L2996,2790 L3001,2672 Z" fill="#5a9ef4"/><path d="M2611,2695 L2620,2775 L2629,2695 Z" fill="#5a9ef4"/><path d="M2631,2695 L2640,2775 L2649,2695 Z" fill="#5a9ef4"/><path d="M2671,2695 L2680,2775 L2689,2695 Z" fill="#5a9ef4"/><path d="M2691,2695 L2700,2775 L2709,2695 Z" fill="#5a9ef4"/><path d="M2742,2695 L2748,2790 L2754,2695 Z" fill="#5a9ef4"/><path d="M2756,2695 L2762,2775 L2768,2695 Z" fill="#5a9ef4"/><path d="M2770,2695 L2776,2760 L2782,2695 Z" fill="#5a9ef4"/><path d="M2784,2695 L2790,2790 L2796,2695 Z" fill="#5a9ef4"/><path d="M2798,2695 L2804,2775 L2810,2695 Z" fill="#5a9ef4"/><path d="M2812,2695 L2818,2760 L2824,2695 Z" fill="#5a9ef4"/><path d="M2826,2695 L2832,2790 L2838,2695 Z" fill="#5a9ef4"/><path d="M2840,2695 L2846,2775 L2852,2695 Z" fill="#5a9ef4"/><path d="M2854,2695 L2860,2760 L2866,2695 Z" fill="#5a9ef4"/><path d="M2868,2695 L2874,2790 L2880,2695 Z" fill="#5a9ef4"/><path d="M2882,2695 L2888,2775 L2894,2695 Z" fill="#5a9ef4"/><path d="M2896,2695 L2902,2760 L2908,2695 Z" fill="#5a9ef4"/><path d="M2910,2695 L2916,2790 L2922,2695 Z" fill="#5a9ef4"/><rect x="2771.0" y="2800.0" width="201.0" height="14.0" rx="7.0" fill="#5a9ef4"/><rect x="2840.0" y="2803.0" width="60.0" height="8.0" rx="4.0" fill="#70f0dc"/><rect x="2820.0" y="2836.0" width="125.0" height="8.0" rx="4.0" fill="#5a9ef4"/><rect x="2752.0" y="2856.0" width="203.0" height="14.0" rx="7.0" fill="#5a9ef4"/><rect x="2801.0" y="2887.0" width="148.0" height="16.0" rx="8.0" fill="#5a9ef4"/><rect x="2830.0" y="2890.5" width="70.0" height="9.0" rx="4.5" fill="#70f0dc"/><rect x="2725.0" y="2912.0" width="263.0" height="20.0" rx="10.0" fill="#5a9ef4"/><rect x="2750.0" y="2915.5" width="190.0" height="13.0" rx="6.5" fill="#70f0dc"/><rect x="2800.0" y="2918.0" width="70.0" height="8.0" rx="4.0" fill="#94f088"/><rect x="2702.0" y="2941.0" width="257.0" height="20.0" rx="10.0" fill="#5a9ef4"/><rect x="2740.0" y="2944.5" width="123.0" height="13.0" rx="6.5" fill="#70f0dc"/><rect x="2712.0" y="2976.0" width="151.0" height="16.0" rx="8.0" fill="#5a9ef4"/><rect x="2760.0" y="2979.0" width="103.0" height="10.0" rx="5.0" fill="#70f0dc"/><rect x="2729.0" y="3007.0" width="134.0" height="14.0" rx="7.0" fill="#5a9ef4"/><rect x="2780.0" y="3011.0" width="60.0" height="6.0" rx="3.0" fill="#70f0dc"/></g>
<rect x="2521" y="2657" width="346" height="7" fill="#02101e"/><rect x="2521" y="2664" width="346" height="8" fill="#0a1c70" opacity="0.7"/><rect x="2521" y="2686" width="346" height="9" fill="#000a50"/><path d="M2859,2659 Q2870,2660 2870,2676 Q2870,2692 2859,2693" stroke="#001040" stroke-width="4" fill="none"/>
</g>
<rect x="2521" y="2149" width="678" height="2" fill="#1024b0" opacity="0.8"/>
<rect x="2521" y="3022" width="678" height="3" fill="#0c0c80" opacity="0.8"/>
<rect x="2521" y="2149" width="4" height="876" fill="#8474e4" opacity="0.85"/>
<rect x="3196" y="2149" width="3" height="876" fill="#2424a8" opacity="0.7"/>
<rect x="2358" y="126.5" width="50" height="74.8" fill="#ee1c12"/>
<rect x="2358" y="200.8" width="50" height="74.8" fill="#ff4a32"/>
<rect x="2358" y="275.0" width="50" height="74.8" fill="#ece81a"/>
<rect x="2358" y="349.2" width="50" height="74.8" fill="#a8ec08"/>
<rect x="2358" y="423.5" width="50" height="74.8" fill="#78ec00"/>
<rect x="2358" y="497.8" width="50" height="74.8" fill="#6ce200"/>
<rect x="2358" y="572.0" width="50" height="74.8" fill="#80e868"/>
<rect x="2358" y="646.2" width="50" height="74.8" fill="#78fcd0"/>
<rect x="2358" y="720.5" width="50" height="74.8" fill="#2864f4"/>
<rect x="2358" y="794.8" width="50" height="74.8" fill="#0c30f0"/>
<rect x="2346" y="131.0" width="12" height="4" fill="#000"/>
<text x="2335" y="153.0" font-size="67" text-anchor="end">1.654</text>
<rect x="2346" y="205.2" width="12" height="4" fill="#777"/>
<text x="2335" y="227.2" font-size="67" text-anchor="end">1.488</text>
<rect x="2346" y="279.4" width="12" height="4" fill="#000"/>
<text x="2335" y="301.4" font-size="67" text-anchor="end">1.323</text>
<rect x="2346" y="353.6" width="12" height="4" fill="#000"/>
<text x="2335" y="375.6" font-size="67" text-anchor="end">1.158</text>
<rect x="2346" y="427.8" width="12" height="4" fill="#777"/>
<text x="2335" y="449.8" font-size="67" text-anchor="end">0.992</text>
<rect x="2346" y="502.0" width="12" height="4" fill="#000"/>
<text x="2335" y="524.0" font-size="67" text-anchor="end">0.827</text>
<rect x="2346" y="576.2" width="12" height="4" fill="#000"/>
<text x="2335" y="598.2" font-size="67" text-anchor="end">0.662</text>
<rect x="2346" y="650.4" width="12" height="4" fill="#777"/>
<text x="2335" y="672.4" font-size="67" text-anchor="end">0.496</text>
<rect x="2346" y="724.6" width="12" height="4" fill="#000"/>
<text x="2335" y="746.6" font-size="67" text-anchor="end">0.331</text>
<rect x="2346" y="798.8" width="12" height="4" fill="#000"/>
<text x="2335" y="820.8" font-size="67" text-anchor="end">0.165</text>
<rect x="2346" y="873.0" width="12" height="4" fill="#777"/>
<text x="2335" y="895.0" font-size="67" text-anchor="end">0</text>
<text x="2069" y="77" font-size="67"><tspan font-style="italic">v</tspan><tspan font-size="40" dy="12">r</tspan><tspan dy="-12">/(10</tspan><tspan font-size="36" dy="-22">3</tspan><tspan dy="22"> cm·s</tspan><tspan font-size="39" dy="-22">−1</tspan><tspan dy="22">)</tspan></text>
<rect x="3539" y="126.5" width="50" height="74.8" fill="#ee1c12"/>
<rect x="3539" y="200.8" width="50" height="74.8" fill="#ff4a32"/>
<rect x="3539" y="275.0" width="50" height="74.8" fill="#ece81a"/>
<rect x="3539" y="349.2" width="50" height="74.8" fill="#a8ec08"/>
<rect x="3539" y="423.5" width="50" height="74.8" fill="#78ec00"/>
<rect x="3539" y="497.8" width="50" height="74.8" fill="#6ce200"/>
<rect x="3539" y="572.0" width="50" height="74.8" fill="#80e868"/>
<rect x="3539" y="646.2" width="50" height="74.8" fill="#78fcd0"/>
<rect x="3539" y="720.5" width="50" height="74.8" fill="#2864f4"/>
<rect x="3539" y="794.8" width="50" height="74.8" fill="#0c30f0"/>
<rect x="3527" y="131.0" width="12" height="4" fill="#000"/>
<text x="3516" y="153.0" font-size="67" text-anchor="end">2.261</text>
<rect x="3527" y="205.2" width="12" height="4" fill="#777"/>
<text x="3516" y="227.2" font-size="67" text-anchor="end">2.035</text>
<rect x="3527" y="279.4" width="12" height="4" fill="#000"/>
<text x="3516" y="301.4" font-size="67" text-anchor="end">1.809</text>
<rect x="3527" y="353.6" width="12" height="4" fill="#000"/>
<text x="3516" y="375.6" font-size="67" text-anchor="end">1.583</text>
<rect x="3527" y="427.8" width="12" height="4" fill="#777"/>
<text x="3516" y="449.8" font-size="67" text-anchor="end">1.357</text>
<rect x="3527" y="502.0" width="12" height="4" fill="#000"/>
<text x="3516" y="524.0" font-size="67" text-anchor="end">1.131</text>
<rect x="3527" y="576.2" width="12" height="4" fill="#000"/>
<text x="3516" y="598.2" font-size="67" text-anchor="end">0.905</text>
<rect x="3527" y="650.4" width="12" height="4" fill="#777"/>
<text x="3516" y="672.4" font-size="67" text-anchor="end">0.678</text>
<rect x="3527" y="724.6" width="12" height="4" fill="#000"/>
<text x="3516" y="746.6" font-size="67" text-anchor="end">0.452</text>
<rect x="3527" y="798.8" width="12" height="4" fill="#000"/>
<text x="3516" y="820.8" font-size="67" text-anchor="end">0.226</text>
<rect x="3527" y="873.0" width="12" height="4" fill="#777"/>
<text x="3516" y="895.0" font-size="67" text-anchor="end">0</text>
<text x="3250" y="77" font-size="67"><tspan font-style="italic">v</tspan><tspan font-size="40" dy="12">r</tspan><tspan dy="-12">/(10</tspan><tspan font-size="36" dy="-22">3</tspan><tspan dy="22"> cm·s</tspan><tspan font-size="39" dy="-22">−1</tspan><tspan dy="22">)</tspan></text>
<rect x="1170" y="1192.5" width="50" height="74.8" fill="#ee1c12"/>
<rect x="1170" y="1266.8" width="50" height="74.8" fill="#ff4a32"/>
<rect x="1170" y="1341.0" width="50" height="74.8" fill="#ece81a"/>
<rect x="1170" y="1415.2" width="50" height="74.8" fill="#a8ec08"/>
<rect x="1170" y="1489.5" width="50" height="74.8" fill="#78ec00"/>
<rect x="1170" y="1563.8" width="50" height="74.8" fill="#6ce200"/>
<rect x="1170" y="1638.0" width="50" height="74.8" fill="#80e868"/>
<rect x="1170" y="1712.2" width="50" height="74.8" fill="#78fcd0"/>
<rect x="1170" y="1786.5" width="50" height="74.8" fill="#2864f4"/>
<rect x="1170" y="1860.8" width="50" height="74.8" fill="#0c30f0"/>
<rect x="1158" y="1197.0" width="12" height="4" fill="#000"/>
<text x="1147" y="1219.0" font-size="67" text-anchor="end">2.286</text>
<rect x="1158" y="1271.2" width="12" height="4" fill="#777"/>
<text x="1147" y="1293.2" font-size="67" text-anchor="end">2.057</text>
<rect x="1158" y="1345.4" width="12" height="4" fill="#000"/>
<text x="1147" y="1367.4" font-size="67" text-anchor="end">1.829</text>
<rect x="1158" y="1419.6" width="12" height="4" fill="#000"/>
<text x="1147" y="1441.6" font-size="67" text-anchor="end">1.600</text>
<rect x="1158" y="1493.8" width="12" height="4" fill="#777"/>
<text x="1147" y="1515.8" font-size="67" text-anchor="end">1.371</text>
<rect x="1158" y="1568.0" width="12" height="4" fill="#000"/>
<text x="1147" y="1590.0" font-size="67" text-anchor="end">1.143</text>
<rect x="1158" y="1642.2" width="12" height="4" fill="#000"/>
<text x="1147" y="1664.2" font-size="67" text-anchor="end">0.914</text>
<rect x="1158" y="1716.4" width="12" height="4" fill="#777"/>
<text x="1147" y="1738.4" font-size="67" text-anchor="end">0.686</text>
<rect x="1158" y="1790.6" width="12" height="4" fill="#000"/>
<text x="1147" y="1812.6" font-size="67" text-anchor="end">0.457</text>
<rect x="1158" y="1864.8" width="12" height="4" fill="#000"/>
<text x="1147" y="1886.8" font-size="67" text-anchor="end">0.229</text>
<rect x="1158" y="1939.0" width="12" height="4" fill="#777"/>
<text x="1147" y="1961.0" font-size="67" text-anchor="end">0</text>
<text x="881" y="1143" font-size="67"><tspan font-style="italic">v</tspan><tspan font-size="40" dy="12">r</tspan><tspan dy="-12">/(10</tspan><tspan font-size="36" dy="-22">2</tspan><tspan dy="22"> cm·s</tspan><tspan font-size="39" dy="-22">−1</tspan><tspan dy="22">)</tspan></text>
<rect x="2358" y="1192.5" width="50" height="74.8" fill="#ee1c12"/>
<rect x="2358" y="1266.8" width="50" height="74.8" fill="#ff4a32"/>
<rect x="2358" y="1341.0" width="50" height="74.8" fill="#ece81a"/>
<rect x="2358" y="1415.2" width="50" height="74.8" fill="#a8ec08"/>
<rect x="2358" y="1489.5" width="50" height="74.8" fill="#78ec00"/>
<rect x="2358" y="1563.8" width="50" height="74.8" fill="#6ce200"/>
<rect x="2358" y="1638.0" width="50" height="74.8" fill="#80e868"/>
<rect x="2358" y="1712.2" width="50" height="74.8" fill="#78fcd0"/>
<rect x="2358" y="1786.5" width="50" height="74.8" fill="#2864f4"/>
<rect x="2358" y="1860.8" width="50" height="74.8" fill="#0c30f0"/>
<rect x="2346" y="1197.0" width="12" height="4" fill="#000"/>
<text x="2335" y="1219.0" font-size="67" text-anchor="end">21.730</text>
<rect x="2346" y="1271.2" width="12" height="4" fill="#777"/>
<text x="2335" y="1293.2" font-size="67" text-anchor="end">19.560</text>
<rect x="2346" y="1345.4" width="12" height="4" fill="#000"/>
<text x="2335" y="1367.4" font-size="67" text-anchor="end">17.380</text>
<rect x="2346" y="1419.6" width="12" height="4" fill="#000"/>
<text x="2335" y="1441.6" font-size="67" text-anchor="end">15.210</text>
<rect x="2346" y="1493.8" width="12" height="4" fill="#777"/>
<text x="2335" y="1515.8" font-size="67" text-anchor="end">13.040</text>
<rect x="2346" y="1568.0" width="12" height="4" fill="#000"/>
<text x="2335" y="1590.0" font-size="67" text-anchor="end">10.860</text>
<rect x="2346" y="1642.2" width="12" height="4" fill="#000"/>
<text x="2335" y="1664.2" font-size="67" text-anchor="end">8.692</text>
<rect x="2346" y="1716.4" width="12" height="4" fill="#777"/>
<text x="2335" y="1738.4" font-size="67" text-anchor="end">6.519</text>
<rect x="2346" y="1790.6" width="12" height="4" fill="#000"/>
<text x="2335" y="1812.6" font-size="67" text-anchor="end">4.346</text>
<rect x="2346" y="1864.8" width="12" height="4" fill="#000"/>
<text x="2335" y="1886.8" font-size="67" text-anchor="end">2.173</text>
<rect x="2346" y="1939.0" width="12" height="4" fill="#777"/>
<text x="2335" y="1961.0" font-size="67" text-anchor="end">0</text>
<text x="2108" y="1143" font-size="67"><tspan font-style="italic">v</tspan><tspan font-size="40" dy="12" dx="-9.5">r</tspan><tspan dy="-12" dx="4.8">/(cm·s</tspan><tspan font-size="39" dy="-22">−1</tspan><tspan dy="22">)</tspan></text>
<rect x="3540" y="1192.5" width="50" height="74.8" fill="#ee1c12"/>
<rect x="3540" y="1266.8" width="50" height="74.8" fill="#ff4a32"/>
<rect x="3540" y="1341.0" width="50" height="74.8" fill="#ece81a"/>
<rect x="3540" y="1415.2" width="50" height="74.8" fill="#a8ec08"/>
<rect x="3540" y="1489.5" width="50" height="74.8" fill="#78ec00"/>
<rect x="3540" y="1563.8" width="50" height="74.8" fill="#6ce200"/>
<rect x="3540" y="1638.0" width="50" height="74.8" fill="#80e868"/>
<rect x="3540" y="1712.2" width="50" height="74.8" fill="#78fcd0"/>
<rect x="3540" y="1786.5" width="50" height="74.8" fill="#2864f4"/>
<rect x="3540" y="1860.8" width="50" height="74.8" fill="#0c30f0"/>
<rect x="3528" y="1197.0" width="12" height="4" fill="#000"/>
<text x="3517" y="1219.0" font-size="67" text-anchor="end">2.975</text>
<rect x="3528" y="1271.2" width="12" height="4" fill="#777"/>
<text x="3517" y="1293.2" font-size="67" text-anchor="end">2.677</text>
<rect x="3528" y="1345.4" width="12" height="4" fill="#000"/>
<text x="3517" y="1367.4" font-size="67" text-anchor="end">2.380</text>
<rect x="3528" y="1419.6" width="12" height="4" fill="#000"/>
<text x="3517" y="1441.6" font-size="67" text-anchor="end">2.082</text>
<rect x="3528" y="1493.8" width="12" height="4" fill="#777"/>
<text x="3517" y="1515.8" font-size="67" text-anchor="end">1.785</text>
<rect x="3528" y="1568.0" width="12" height="4" fill="#000"/>
<text x="3517" y="1590.0" font-size="67" text-anchor="end">1.487</text>
<rect x="3528" y="1642.2" width="12" height="4" fill="#000"/>
<text x="3517" y="1664.2" font-size="67" text-anchor="end">1.190</text>
<rect x="3528" y="1716.4" width="12" height="4" fill="#777"/>
<text x="3517" y="1738.4" font-size="67" text-anchor="end">0.892</text>
<rect x="3528" y="1790.6" width="12" height="4" fill="#000"/>
<text x="3517" y="1812.6" font-size="67" text-anchor="end">0.595</text>
<rect x="3528" y="1864.8" width="12" height="4" fill="#000"/>
<text x="3517" y="1886.8" font-size="67" text-anchor="end">0.298</text>
<rect x="3528" y="1939.0" width="12" height="4" fill="#777"/>
<text x="3517" y="1961.0" font-size="67" text-anchor="end">0</text>
<text x="3304" y="1143" font-size="67"><tspan font-style="italic">v</tspan><tspan font-size="40" dy="12" dx="-9.5">r</tspan><tspan dy="-12" dx="4.8">/(cm·s</tspan><tspan font-size="39" dy="-22">−1</tspan><tspan dy="22">)</tspan></text>
<rect x="1170" y="2256.5" width="50" height="74.8" fill="#ee1c12"/>
<rect x="1170" y="2330.8" width="50" height="74.8" fill="#ff4a32"/>
<rect x="1170" y="2405.0" width="50" height="74.8" fill="#ece81a"/>
<rect x="1170" y="2479.2" width="50" height="74.8" fill="#a8ec08"/>
<rect x="1170" y="2553.5" width="50" height="74.8" fill="#78ec00"/>
<rect x="1170" y="2627.8" width="50" height="74.8" fill="#6ce200"/>
<rect x="1170" y="2702.0" width="50" height="74.8" fill="#80e868"/>
<rect x="1170" y="2776.2" width="50" height="74.8" fill="#78fcd0"/>
<rect x="1170" y="2850.5" width="50" height="74.8" fill="#2864f4"/>
<rect x="1170" y="2924.8" width="50" height="74.8" fill="#0c30f0"/>
<rect x="1158" y="2261.0" width="12" height="4" fill="#000"/>
<text x="1147" y="2283.0" font-size="67" text-anchor="end">2.105</text>
<rect x="1158" y="2335.2" width="12" height="4" fill="#777"/>
<text x="1147" y="2357.2" font-size="67" text-anchor="end">1.895</text>
<rect x="1158" y="2409.4" width="12" height="4" fill="#000"/>
<text x="1147" y="2431.4" font-size="67" text-anchor="end">1.684</text>
<rect x="1158" y="2483.6" width="12" height="4" fill="#000"/>
<text x="1147" y="2505.6" font-size="67" text-anchor="end">1.474</text>
<rect x="1158" y="2557.8" width="12" height="4" fill="#777"/>
<text x="1147" y="2579.8" font-size="67" text-anchor="end">1.263</text>
<rect x="1158" y="2632.0" width="12" height="4" fill="#000"/>
<text x="1147" y="2654.0" font-size="67" text-anchor="end">1.053</text>
<rect x="1158" y="2706.2" width="12" height="4" fill="#000"/>
<text x="1147" y="2728.2" font-size="67" text-anchor="end">0.842</text>
<rect x="1158" y="2780.4" width="12" height="4" fill="#777"/>
<text x="1147" y="2802.4" font-size="67" text-anchor="end">0.632</text>
<rect x="1158" y="2854.6" width="12" height="4" fill="#000"/>
<text x="1147" y="2876.6" font-size="67" text-anchor="end">0.421</text>
<rect x="1158" y="2928.8" width="12" height="4" fill="#000"/>
<text x="1147" y="2950.8" font-size="67" text-anchor="end">0.211</text>
<rect x="1158" y="3003.0" width="12" height="4" fill="#777"/>
<text x="1147" y="3025.0" font-size="67" text-anchor="end">0</text>
<text x="937" y="2207" font-size="67"><tspan font-style="italic">v</tspan><tspan font-size="40" dy="12" dx="-9.5">r</tspan><tspan dy="-12" dx="4.8">/(cm·s</tspan><tspan font-size="39" dy="-22">−1</tspan><tspan dy="22">)</tspan></text>
<rect x="2358" y="2256.5" width="50" height="74.8" fill="#ee1c12"/>
<rect x="2358" y="2330.8" width="50" height="74.8" fill="#ff4a32"/>
<rect x="2358" y="2405.0" width="50" height="74.8" fill="#ece81a"/>
<rect x="2358" y="2479.2" width="50" height="74.8" fill="#a8ec08"/>
<rect x="2358" y="2553.5" width="50" height="74.8" fill="#78ec00"/>
<rect x="2358" y="2627.8" width="50" height="74.8" fill="#6ce200"/>
<rect x="2358" y="2702.0" width="50" height="74.8" fill="#80e868"/>
<rect x="2358" y="2776.2" width="50" height="74.8" fill="#78fcd0"/>
<rect x="2358" y="2850.5" width="50" height="74.8" fill="#2864f4"/>
<rect x="2358" y="2924.8" width="50" height="74.8" fill="#0c30f0"/>
<rect x="2346" y="2261.0" width="12" height="4" fill="#000"/>
<text x="2335" y="2283.0" font-size="67" text-anchor="end">1.004</text>
<rect x="2346" y="2335.2" width="12" height="4" fill="#777"/>
<text x="2335" y="2357.2" font-size="67" text-anchor="end">0.904</text>
<rect x="2346" y="2409.4" width="12" height="4" fill="#000"/>
<text x="2335" y="2431.4" font-size="67" text-anchor="end">0.803</text>
<rect x="2346" y="2483.6" width="12" height="4" fill="#000"/>
<text x="2335" y="2505.6" font-size="67" text-anchor="end">0.703</text>
<rect x="2346" y="2557.8" width="12" height="4" fill="#777"/>
<text x="2335" y="2579.8" font-size="67" text-anchor="end">0.603</text>
<rect x="2346" y="2632.0" width="12" height="4" fill="#000"/>
<text x="2335" y="2654.0" font-size="67" text-anchor="end">0.502</text>
<rect x="2346" y="2706.2" width="12" height="4" fill="#000"/>
<text x="2335" y="2728.2" font-size="67" text-anchor="end">0.402</text>
<rect x="2346" y="2780.4" width="12" height="4" fill="#777"/>
<text x="2335" y="2802.4" font-size="67" text-anchor="end">0.301</text>
<rect x="2346" y="2854.6" width="12" height="4" fill="#000"/>
<text x="2335" y="2876.6" font-size="67" text-anchor="end">0.201</text>
<rect x="2346" y="2928.8" width="12" height="4" fill="#000"/>
<text x="2335" y="2950.8" font-size="67" text-anchor="end">0.101</text>
<rect x="2346" y="3003.0" width="12" height="4" fill="#777"/>
<text x="2335" y="3025.0" font-size="67" text-anchor="end">0</text>
<text x="2121" y="2207" font-size="67"><tspan font-style="italic">v</tspan><tspan font-size="40" dy="12" dx="-9.5">r</tspan><tspan dy="-12" dx="4.8">/(cm·s</tspan><tspan font-size="39" dy="-22">−1</tspan><tspan dy="22">)</tspan></text>
<rect x="3539" y="2256.5" width="50" height="74.8" fill="#ee1c12"/>
<rect x="3539" y="2330.8" width="50" height="74.8" fill="#ff4a32"/>
<rect x="3539" y="2405.0" width="50" height="74.8" fill="#ece81a"/>
<rect x="3539" y="2479.2" width="50" height="74.8" fill="#a8ec08"/>
<rect x="3539" y="2553.5" width="50" height="74.8" fill="#78ec00"/>
<rect x="3539" y="2627.8" width="50" height="74.8" fill="#6ce200"/>
<rect x="3539" y="2702.0" width="50" height="74.8" fill="#80e868"/>
<rect x="3539" y="2776.2" width="50" height="74.8" fill="#78fcd0"/>
<rect x="3539" y="2850.5" width="50" height="74.8" fill="#2864f4"/>
<rect x="3539" y="2924.8" width="50" height="74.8" fill="#0c30f0"/>
<rect x="3527" y="2261.0" width="12" height="4" fill="#000"/>
<text x="3516" y="2283.0" font-size="67" text-anchor="end">0.485</text>
<rect x="3527" y="2335.2" width="12" height="4" fill="#777"/>
<text x="3516" y="2357.2" font-size="67" text-anchor="end">0.436</text>
<rect x="3527" y="2409.4" width="12" height="4" fill="#000"/>
<text x="3516" y="2431.4" font-size="67" text-anchor="end">0.388</text>
<rect x="3527" y="2483.6" width="12" height="4" fill="#000"/>
<text x="3516" y="2505.6" font-size="67" text-anchor="end">0.339</text>
<rect x="3527" y="2557.8" width="12" height="4" fill="#777"/>
<text x="3516" y="2579.8" font-size="67" text-anchor="end">0.291</text>
<rect x="3527" y="2632.0" width="12" height="4" fill="#000"/>
<text x="3516" y="2654.0" font-size="67" text-anchor="end">0.243</text>
<rect x="3527" y="2706.2" width="12" height="4" fill="#000"/>
<text x="3516" y="2728.2" font-size="67" text-anchor="end">0.194</text>
<rect x="3527" y="2780.4" width="12" height="4" fill="#777"/>
<text x="3516" y="2802.4" font-size="67" text-anchor="end">0.146</text>
<rect x="3527" y="2854.6" width="12" height="4" fill="#000"/>
<text x="3516" y="2876.6" font-size="67" text-anchor="end">0.097</text>
<rect x="3527" y="2928.8" width="12" height="4" fill="#000"/>
<text x="3516" y="2950.8" font-size="67" text-anchor="end">0.049</text>
<rect x="3527" y="3003.0" width="12" height="4" fill="#777"/>
<text x="3516" y="3025.0" font-size="67" text-anchor="end">0</text>
<text x="3304" y="2207" font-size="67"><tspan font-style="italic">v</tspan><tspan font-size="40" dy="12" dx="-9.5">r</tspan><tspan dy="-12" dx="4.8">/(cm·s</tspan><tspan font-size="39" dy="-22">−1</tspan><tspan dy="22">)</tspan></text>
<text x="489.0" y="989.5" font-size="66" text-anchor="middle">(a) <tspan font-style="italic">t</tspan>=<tspan>0 ms</tspan></text>
<text x="1684.5" y="989.5" font-size="66" text-anchor="middle">(b) <tspan font-style="italic">t</tspan>=<tspan>0.50 ms</tspan></text>
<text x="2860.5" y="989.5" font-size="66" text-anchor="middle">(c) <tspan font-style="italic">t</tspan>=<tspan>1.00 ms</tspan></text>
<text x="486.0" y="2049.5" font-size="66" text-anchor="middle">(d) <tspan font-style="italic">t</tspan>=<tspan>7.50 ms</tspan></text>
<text x="1683.0" y="2049.5" font-size="66" text-anchor="middle">(e) <tspan font-style="italic">t</tspan>=<tspan>23.50 ms</tspan></text>
<text x="2859.5" y="2049.5" font-size="66" text-anchor="middle">(f) <tspan font-style="italic">t</tspan>=<tspan>64.75 ms</tspan></text>
<text x="487.5" y="3123" font-size="66" text-anchor="middle">(g) <tspan font-style="italic">t</tspan>=<tspan>82.25 ms</tspan></text>
<text x="1684.0" y="3123" font-size="66" text-anchor="middle">(h) <tspan font-style="italic">t</tspan>=<tspan>148.25 ms</tspan></text>
<text x="2860.0" y="3123" font-size="66" text-anchor="middle">(i) <tspan font-style="italic">t</tspan>=<tspan>200.00 ms</tspan></text>
</svg></body></html>
